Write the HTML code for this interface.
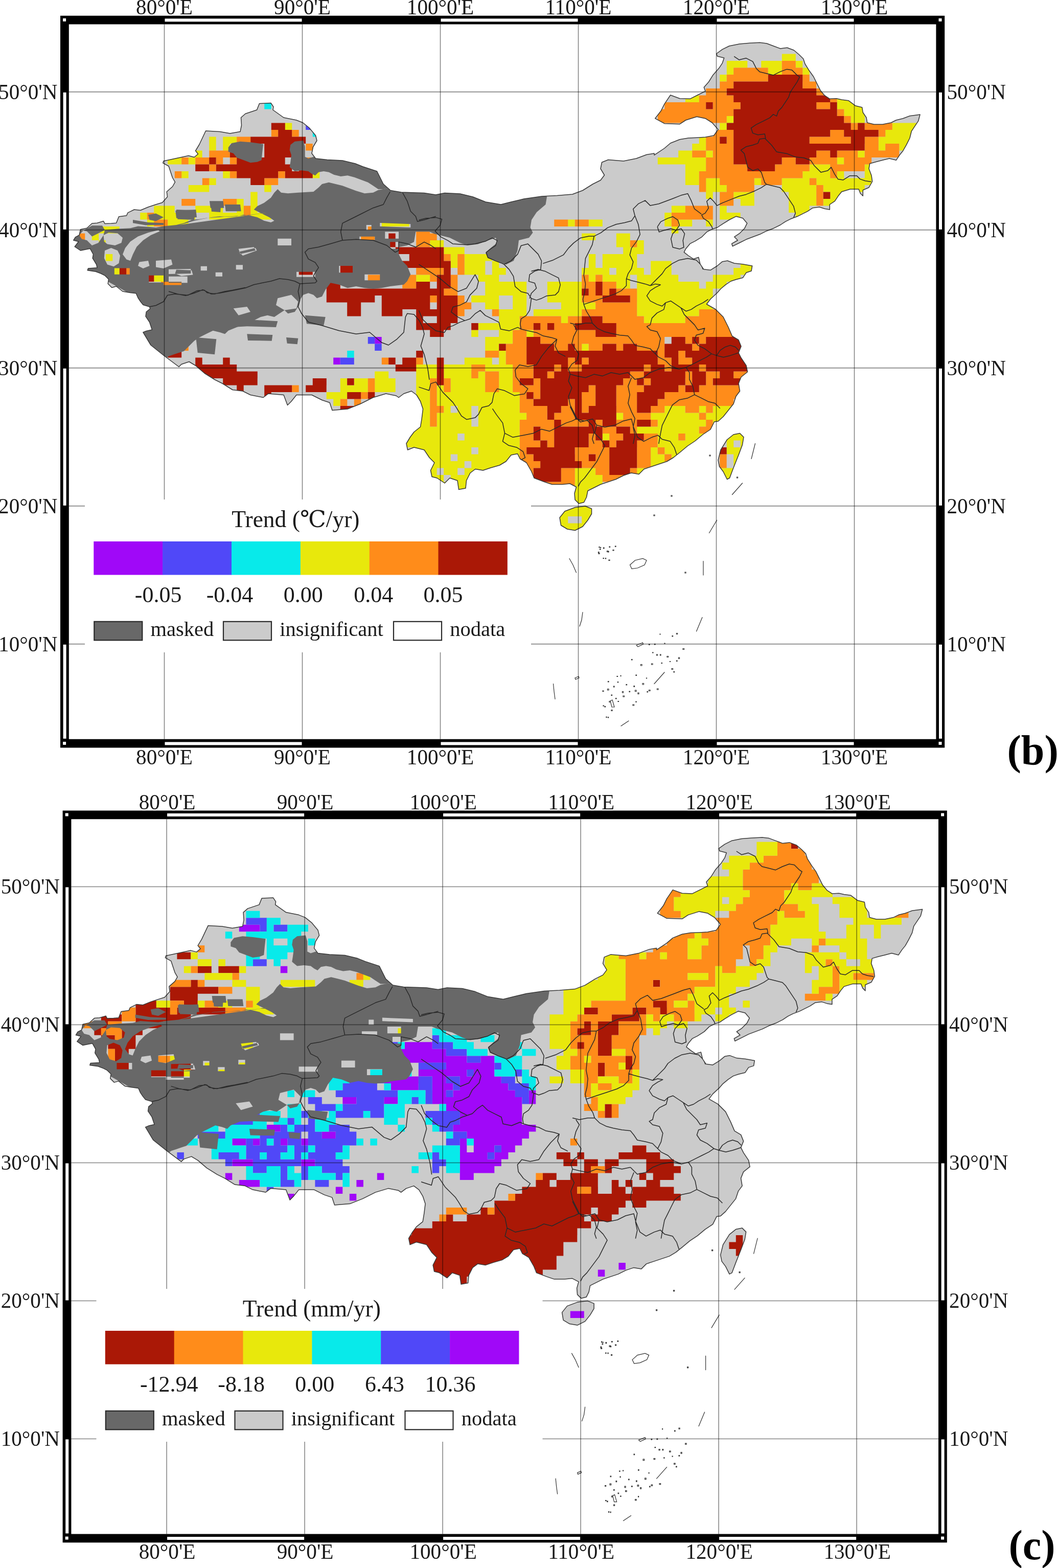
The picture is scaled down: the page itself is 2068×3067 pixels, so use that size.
<!DOCTYPE html>
<html lang="en"><head><meta charset="utf-8"><title>Trend maps</title>
<style>
html,body{margin:0;padding:0;background:#fff;}
body{width:2068px;height:3067px;overflow:hidden;}
svg{display:block;}
text{white-space:pre;}
</style></head>
<body>
<svg width="2068" height="3067" viewBox="0 0 2068 3067">
<rect width="2068" height="3067" fill="#fff"/>
<defs>
<path id="land" d="M143.8,470.0 147.5,463.8 155.0,460.0 157.5,448.8 170.0,446.2 180.0,437.0 190.0,436.2 202.5,432.5 205.0,437.5 217.5,437.0 227.5,436.2 232.5,423.8 247.5,421.8 250.0,416.2 262.5,410.0 275.0,411.2 290.0,405.0 305.0,400.0 317.5,396.2 327.5,385.0 326.2,375.0 337.5,365.0 342.5,356.2 337.5,347.5 330.0,325.0 318.8,318.8 320.0,315.0 337.5,311.2 355.0,307.5 368.8,304.5 380.0,307.5 387.5,301.2 382.5,295.0 390.0,282.5 402.5,256.0 430.0,257.5 450.0,261.0 470.0,257.5 472.5,245.0 471.5,230.0 480.0,222.5 502.5,215.0 507.5,202.5 530.0,201.5 535.0,209.0 534.0,215.0 555.0,230.0 580.0,235.0 592.5,240.0 605.0,250.0 617.5,265.0 620.0,275.0 612.5,287.5 610.0,300.0 617.5,310.0 640.0,312.5 670.0,314.0 695.0,320.0 710.0,326.0 737.5,335.0 750.0,360.0 764.0,372.5 785.0,376.0 830.0,377.5 852.5,381.0 870.0,377.5 900.0,379.0 900.0,379.0 925.0,385.0 950.0,395.0 980.0,400.0 1000.0,395.0 1025.0,389.0 1060.0,384.0 1090.0,382.5 1120.0,380.0 1140.0,372.5 1160.0,360.0 1175.0,352.5 1182.5,342.5 1175.0,330.0 1177.5,317.5 1190.0,312.5 1220.0,315.0 1245.0,310.0 1265.0,302.5 1280.0,300.0 1280.0,303.3 1300.0,290.0 1311.7,280.0 1330.0,272.7 1346.7,270.0 1363.3,269.3 1380.0,268.3 1396.7,265.0 1405.0,253.3 1393.3,240.0 1380.0,231.7 1363.3,228.3 1341.7,235.0 1330.0,242.7 1300.0,241.7 1281.7,231.7 1293.3,216.7 1300.0,203.3 1311.7,186.0 1330.0,192.7 1350.0,193.3 1366.7,185.0 1380.0,178.3 1377.3,170.7 1386.7,160.0 1395.0,146.7 1406.7,133.3 1413.3,123.3 1416.7,113.3 1403.3,110.0 1401.7,105.0 1413.3,96.7 1426.7,90.0 1446.7,86.0 1466.7,84.3 1486.7,83.3 1500.0,85.0 1513.3,90.0 1526.7,95.0 1540.0,93.3 1553.3,98.3 1563.3,106.7 1571.7,115.0 1575.0,125.0 1583.3,138.3 1591.7,150.0 1598.3,163.3 1605.0,176.7 1613.3,186.7 1623.3,193.3 1636.7,192.7 1646.7,195.0 1660.0,196.7 1673.3,206.7 1686.7,210.0 1688.3,220.0 1695.0,230.0 1696.7,240.0 1710.0,243.3 1726.7,243.3 1743.3,240.0 1753.3,235.0 1766.7,231.7 1780.0,226.7 1793.3,225.0 1800.0,224.0 1796.7,236.7 1790.0,246.7 1783.3,256.7 1780.0,270.0 1773.3,283.3 1766.7,295.0 1760.0,303.3 1753.3,313.3 1740.0,310.0 1726.7,313.3 1713.3,316.7 1701.7,320.0 1700.0,330.0 1705.0,343.3 1706.7,355.0 1700.0,366.7 1688.3,371.7 1688.3,383.3 1683.3,378.3 1680.0,370.0 1663.3,370.0 1646.7,375.0 1640.0,383.3 1633.3,393.3 1623.3,400.0 1623.3,410.0 1613.3,408.3 1603.3,405.0 1590.0,406.7 1580.0,413.3 1570.0,418.3 1560.0,423.3 1546.7,428.3 1536.7,433.3 1526.7,440.0 1513.3,446.7 1500.0,451.7 1486.7,458.3 1473.3,463.3 1460.0,468.3 1446.7,475.0 1433.3,481.7 1431.7,476.7 1443.3,470.0 1436.7,463.3 1446.7,456.7 1456.7,446.7 1461.7,436.7 1453.3,426.7 1440.0,423.3 1426.7,430.0 1413.3,438.3 1403.3,445.0 1393.3,448.3 1383.3,453.3 1373.3,463.3 1360.0,471.7 1350.0,476.7 1341.7,486.7 1338.3,493.3 1346.7,500.0 1356.7,506.7 1366.7,503.3 1370.0,516.7 1376.7,526.7 1390.0,528.3 1403.3,520.0 1413.3,511.7 1423.3,510.0 1436.7,515.0 1453.3,516.7 1471.7,520.0 1470.0,530.0 1460.0,533.3 1453.3,543.3 1440.0,546.7 1430.0,550.0 1420.0,556.7 1410.0,565.0 1403.3,572.7 1403.5,572.5 1390.0,585.0 1382.5,595.0 1400.0,605.0 1415.0,620.0 1425.0,640.0 1432.5,657.5 1445.0,665.0 1450.0,677.5 1445.0,690.0 1450.0,700.0 1460.0,715.0 1462.5,727.5 1450.0,737.5 1445.0,750.0 1447.5,765.0 1440.0,775.0 1435.0,790.0 1425.0,802.5 1415.0,815.0 1405.0,824.0 1397.5,825.0 1390.0,840.0 1375.0,850.0 1360.0,862.5 1345.0,872.5 1330.0,885.0 1317.5,895.0 1305.0,902.5 1290.0,907.5 1275.0,912.5 1260.0,917.5 1250.0,927.5 1235.0,925.0 1220.0,930.0 1205.0,937.5 1190.0,942.5 1175.0,947.5 1160.0,955.0 1150.0,960.0 1147.5,972.5 1142.5,982.5 1132.5,985.0 1125.0,977.5 1124.0,965.0 1127.5,952.5 1115.0,946.0 1100.0,947.5 1080.0,947.5 1065.0,942.5 1045.0,935.0 1040.0,922.5 1030.0,905.0 1017.5,897.5 1012.5,887.5 1000.0,890.0 990.0,902.5 977.5,910.0 960.0,915.0 945.0,920.0 930.0,917.5 920.0,925.0 912.5,940.0 911.0,955.0 897.5,957.5 895.0,940.0 880.0,935.0 870.0,945.0 855.0,935.0 845.0,932.5 842.5,920.0 850.0,905.0 840.0,895.0 830.0,880.0 810.0,875.0 797.5,880.0 795.0,867.5 802.5,855.0 810.0,845.0 822.5,835.0 825.0,820.0 827.5,800.0 822.5,785.0 815.0,772.5 805.0,765.0 790.0,770.0 780.0,777.5 775.0,774.0 755.0,770.0 730.0,777.5 705.0,790.0 680.0,800.0 650.0,802.5 645.0,787.5 630.0,782.5 610.0,772.5 580.0,772.5 570.0,785.0 562.5,792.5 555.0,772.5 525.0,770.0 515.0,777.5 490.0,772.5 475.0,765.0 455.0,762.5 435.0,750.0 420.0,742.5 400.0,730.0 382.5,715.0 370.0,707.5 355.0,712.5 350.0,717.5 320.0,695.0 295.0,675.0 280.0,650.0 286.2,647.5 297.5,645.0 292.5,630.0 285.0,618.8 286.2,610.0 293.8,603.8 292.5,600.0 280.0,596.2 275.0,590.0 270.0,582.5 266.2,573.8 255.0,572.5 240.0,570.0 227.5,560.0 218.8,562.5 211.2,555.0 212.5,546.2 205.0,538.8 197.5,535.0 187.5,531.2 171.2,528.8 172.5,525.0 190.0,523.8 188.8,517.5 181.2,505.0 182.5,497.5 176.2,486.2 157.5,490.0 146.2,482.5 153.8,472.5ZM1095.0,1012.5 1105.0,1000.0 1125.0,992.5 1145.0,990.0 1157.5,995.0 1157.5,1005.0 1150.0,1017.5 1140.0,1030.0 1125.0,1037.5 1110.0,1035.0 1097.5,1027.5ZM1405.0,900.0 1410.0,880.0 1422.5,860.0 1435.0,850.0 1447.5,847.5 1455.0,855.0 1452.5,870.0 1445.0,890.0 1435.0,915.0 1427.5,935.0 1422.5,937.5 1415.0,922.5 1407.5,912.5Z"/>
<clipPath id="landclip"><use href="#land"/></clipPath>
<g id="mask" fill="#686868" fill-rule="evenodd"><path d="M135.0,475.0 145.0,460.0 157.5,450.0 170.0,452.5 180.0,462.5 195.0,455.0 205.0,450.0 230.0,447.5 255.0,446.2 270.0,442.5 290.0,443.8 305.0,445.0 320.0,442.5 345.0,440.0 360.0,436.2 375.0,430.0 390.0,428.8 405.0,426.2 425.0,425.0 442.5,423.8 462.5,422.5 480.0,421.2 500.0,418.8 522.0,416.2 350.0,440.0 363.3,436.7 380.0,431.7 396.7,428.3 413.3,425.0 430.0,423.3 446.7,424.0 463.3,423.3 476.7,420.0 490.0,421.7 503.3,425.0 516.7,431.7 530.0,435.0 536.7,431.7 526.7,425.0 506.7,415.0 496.7,410.0 503.3,403.3 516.7,396.7 530.0,386.7 536.7,376.7 543.3,370.0 550.0,376.7 563.3,378.3 583.3,376.7 613.3,375.0 623.3,366.7 630.0,360.0 643.3,356.7 656.7,360.0 670.0,363.3 683.3,368.3 696.7,373.3 713.3,378.3 730.0,376.7 740.0,371.7 750.0,370.0 766.7,366.7 900.0,370.0 1000.0,385.0 1065.0,377.5 1070.0,385.0 1067.5,400.0 1050.0,415.0 1040.0,430.0 1037.5,445.0 1042.5,455.0 1035.0,465.0 1015.0,470.0 1012.5,490.0 1005.0,510.0 990.0,517.5 970.0,510.0 955.0,505.0 950.0,495.0 960.0,485.0 972.5,475.0 970.0,465.0 955.0,470.0 935.0,477.5 915.0,480.0 900.0,475.0 880.0,465.0 860.0,460.0 850.0,457.5 840.0,453.3 813.3,453.3 810.0,473.3 796.7,480.0 780.0,483.3 780.0,496.7 786.7,510.0 796.7,520.0 803.3,536.7 796.7,550.0 790.0,556.7 763.3,560.0 746.7,563.3 730.0,565.0 713.3,563.3 696.7,560.0 680.0,563.3 663.3,556.7 646.7,553.3 636.7,566.7 630.0,580.0 620.0,583.3 613.3,576.7 603.3,573.3 593.3,576.7 586.7,586.7 583.3,600.0 576.7,610.0 563.3,613.3 556.7,606.7 546.7,613.3 536.7,620.0 523.3,616.7 510.0,620.0 496.7,626.7 480.0,633.3 463.3,640.0 446.7,646.7 440.0,653.3 430.0,650.0 416.7,646.7 403.3,653.3 390.0,660.0 380.0,666.7 370.0,676.7 360.0,686.7 350.0,690.0 340.0,693.3 330.0,696.7 320.0,705.0 300.0,690.0 280.0,670.0 265.0,650.0 270.0,620.0 280.0,600.0 255.0,575.0 210.0,550.0 170.0,530.0 140.0,500.0 135.0,470.0ZM240.0,497.5 245.0,485.0 255.0,472.5 270.0,462.5 290.0,455.0 310.0,450.0 312.5,452.5 295.0,460.0 280.0,470.0 267.5,482.5 260.0,497.5 255.0,510.0 247.5,507.5ZM202.5,460.0 212.5,455.0 230.0,456.2 240.0,465.0 237.5,475.0 225.0,480.0 210.0,477.5 203.8,472.5ZM205.0,490.0 217.5,485.0 230.0,490.0 235.0,500.0 232.5,515.0 222.5,521.2 210.0,517.5 203.8,505.0ZM223.8,524.5 253.8,524.5 253.8,536.8 223.8,536.8ZM291.2,538.8 320.0,538.8 320.0,552.5 291.2,552.5ZM320.0,551.2 355.0,551.2 355.0,557.5 320.0,557.5ZM305.0,510.0 335.0,507.5 337.5,517.5 320.0,525.0 305.0,522.5ZM345.0,527.5 375.0,528.8 377.5,537.5 355.0,540.0 342.5,535.0ZM272.5,512.5 290.0,510.0 292.5,520.0 280.0,525.0 270.0,520.0ZM467.5,492.5 500.0,485.0 502.5,490.0 475.0,500.0ZM155.0,460.0 162.5,451.2 180.0,441.2 200.0,441.2 205.0,450.0 202.5,460.0 192.5,475.0 180.0,480.0 170.0,470.0 160.0,467.5ZM743.3,436.0 803.3,438.3 803.3,445.0 743.3,442.7ZM716.7,440.0 726.7,440.0 726.7,450.0 716.7,450.0ZM703.3,462.7 733.3,462.7 733.3,469.3 703.3,469.3ZM753.3,453.3 780.0,453.3 780.0,466.7 753.3,466.7ZM763.3,473.3 780.0,473.3 780.0,486.7 763.3,486.7ZM580.0,531.7 616.7,531.7 616.7,541.7 580.0,541.7ZM663.3,520.0 690.0,520.0 690.0,533.3 663.3,533.3ZM713.3,536.7 743.3,536.7 743.3,548.3 713.3,548.3ZM543.3,466.7 570.0,466.7 570.0,480.0 543.3,480.0ZM466.7,486.7 496.7,483.3 500.0,490.0 470.0,496.7ZM461.7,518.3 475.0,518.3 475.0,527.3 461.7,527.3ZM421.7,532.7 435.0,532.7 435.0,540.7 421.7,540.7ZM392.7,520.7 405.0,520.7 405.0,529.3 392.7,529.3ZM330.0,526.7 373.3,526.0 373.3,535.0 330.0,536.0ZM330.0,540.7 366.7,540.7 366.7,553.3 330.0,553.3ZM543.3,583.3 570.0,576.7 583.3,590.0 580.0,603.3 556.7,606.7 540.0,596.7ZM456.7,603.3 483.3,600.0 490.0,610.0 466.7,616.7Z"/><path d="M568.3,283.3 576.7,276.7 593.3,275.0 596.7,286.7 596.7,306.7 603.3,310.0 613.3,306.7 663.3,310.0 696.7,315.0 740.0,331.7 750.0,353.3 766.7,366.7 750.0,370.0 740.0,370.0 730.0,363.3 720.0,356.7 706.7,351.7 693.3,346.7 680.0,343.3 666.7,345.0 653.3,341.7 643.3,336.7 633.3,335.0 623.3,336.7 616.7,343.3 610.0,340.0 603.3,335.0 590.0,333.3 576.7,335.0 566.7,326.7 568.3,316.7 570.0,303.3 566.7,293.3Z"/><path d="M446.7,288.3 453.3,280.0 470.0,276.7 490.0,278.3 515.0,281.7 513.3,296.7 511.7,313.3 503.3,316.7 490.0,318.3 476.7,313.3 463.3,308.3 456.7,300.0 446.7,296.7Z"/><path d="M343.3,411.7 383.3,410.0 385.0,425.0 345.0,426.7Z"/><path d="M410.0,393.3 436.7,393.3 438.3,406.7 411.7,406.7Z"/><path d="M440.0,400.0 470.0,400.0 471.7,413.3 441.7,413.3Z"/><path d="M450.0,626.7 483.3,625.0 543.3,628.3 540.0,640.0 483.3,638.3 453.3,640.0Z"/><path d="M483.3,653.3 533.3,655.0 531.7,666.7 485.0,666.0Z"/><path d="M596.7,616.7 636.7,620.0 633.3,636.7 600.0,633.3Z"/><path d="M383.3,660.0 423.3,663.3 420.0,693.3 386.7,690.0Z"/><path d="M560.0,660.0 583.3,661.7 581.7,673.3 561.7,671.7Z"/><path d="M345.0,410.0 382.5,411.2 380.0,430.0 347.5,428.8Z"/><path d="M412.5,395.0 432.5,396.2 431.2,415.0 413.8,413.8Z"/><path d="M290.0,420.0 305.0,417.5 320.0,425.0 305.0,432.5 292.5,430.0Z"/><path d="M260.0,430.0 290.0,435.0 320.0,436.2 320.0,440.0 285.0,440.5 260.0,436.2Z"/></g>
<path id="prov" d="M763.3,375.0 756.7,386.7 750.0,400.0 730.0,406.7 703.3,420.0 683.3,430.0 670.0,436.7 666.7,453.3 670.0,470.0M670.0,470.0 646.7,476.7 623.3,483.3 603.3,486.7 596.7,493.3 603.3,506.7 616.7,513.3 623.3,523.3 616.7,533.3 613.3,540.0 620.0,550.0 616.7,553.3 586.7,555.0M586.7,555.0 576.7,550.0 563.3,546.7 546.7,545.0 530.0,550.0 513.3,553.3 496.7,556.7 480.0,563.3 463.3,566.7 446.7,570.0 430.0,573.3 413.3,575.0 396.7,566.7 380.0,573.3 363.3,578.3 346.7,575.0 330.0,570.0M292.5,600.0 305.0,597.5 320.0,590.0 327.5,577.5 342.5,575.0 367.5,577.5 385.0,568.8 400.0,567.5 405.0,572.5 420.0,575.0 440.0,570.0 455.0,567.5 480.0,562.5M586.7,555.0 583.3,570.0 586.7,586.7 583.3,600.0 590.0,613.3 603.3,630.0 630.0,636.7 663.3,646.7 696.7,653.3 723.3,650.0 746.7,670.0 760.0,675.0 776.7,663.3 790.0,650.0 793.3,620.0 796.7,613.3 810.0,615.0 820.0,626.7 826.7,640.0 830.0,653.3 823.3,676.7 830.0,693.3 836.7,720.0 840.0,742.7M670.0,470.0 696.7,468.3 730.0,470.0 756.7,480.0 773.3,493.3 780.0,490.0 780.0,473.3 796.7,476.7 813.3,483.3 830.0,473.3 843.3,480.0 852.7,486.7M786.7,375.0 796.7,393.3 803.3,413.3 813.3,423.3 816.7,433.3 830.0,430.0 852.7,423.3M1436.2,110.4 1446.2,117.1 1459.5,113.7 1472.8,120.4 1479.5,133.7 1486.2,140.4 1499.5,143.7 1512.8,147.1 1526.2,140.4 1539.5,135.4 1549.5,137.1 1559.5,147.1 1564.5,150.4 1559.5,160.4 1552.8,170.4 1546.2,180.4 1542.8,190.4 1536.2,200.4 1529.5,210.4 1522.8,217.1 1519.5,227.1 1512.8,223.7 1506.2,230.4 1492.8,237.1 1479.5,243.7 1469.5,250.4 1472.8,260.4 1482.8,263.7 1496.2,262.1 1497.8,270.4 1486.2,272.1 1482.8,280.4 1472.8,283.7 1459.5,287.1 1449.5,293.7 1456.2,300.4 1459.5,313.7 1462.8,327.1 1472.8,333.7 1482.8,330.4 1489.5,337.1 1492.8,347.1 1496.2,357.1 1499.5,360.4M1496.2,270.4 1509.5,283.7 1519.5,297.1 1539.5,300.4 1556.2,307.1 1572.8,308.7 1586.2,313.7 1592.8,323.7 1606.2,337.1 1619.5,333.7 1626.2,327.1 1632.8,340.4 1639.5,350.4 1649.5,352.1 1662.8,343.7 1676.2,343.7 1682.8,350.4 1692.8,353.7 1704.5,355.4M1499.5,360.4 1512.8,363.7 1526.2,367.1 1532.8,373.7 1539.5,383.7 1546.2,393.7 1552.8,403.7 1556.2,417.1 1552.8,425.4M1499.5,360.4 1489.5,367.1 1476.2,373.7 1459.5,380.4 1446.2,383.7 1429.5,390.4 1412.8,397.1 1402.8,402.1 1396.2,393.7 1389.5,387.1 1382.8,393.7 1386.2,407.1 1379.5,417.1 1372.8,420.4 1376.2,427.1 1386.2,433.7 1392.8,443.7 1394.5,448.7M1286.2,443.7 1292.8,433.7 1306.2,427.1 1316.2,423.7 1326.2,430.4 1329.5,440.4 1322.8,450.4 1312.8,447.1 1299.5,450.4 1289.5,453.7 1286.2,443.7M1322.8,450.4 1332.8,447.1 1339.5,457.1 1336.2,470.4 1337.8,483.7 1329.5,487.1 1316.2,483.7 1312.8,467.1 1316.2,457.1 1322.8,450.4M819.5,430.4 832.8,427.1 852.8,425.4 864.5,428.7 861.2,440.4 851.2,452.1 862.8,463.7 876.2,470.4 886.2,477.1 912.8,478.7 929.5,477.1 949.5,472.1 962.8,465.4 972.8,470.4 969.5,480.4 959.5,487.1 951.2,493.7 954.5,503.7 969.5,510.4 982.8,515.4 986.2,517.1M986.2,517.1 996.2,527.1 1004.5,540.4 1007.8,560.4 1019.5,570.4 1032.8,573.7 1039.5,583.7 1037.8,597.1 1036.2,607.1 1029.5,617.1 1019.5,623.7 1017.8,633.7 1019.5,643.7M986.2,517.1 999.5,510.4 1012.8,497.1 1019.5,480.4 1032.8,477.1 1042.8,487.1 1052.8,497.1 1059.5,510.4 1057.8,527.1 1046.2,530.4 1036.2,537.1 1034.5,550.4 1046.2,553.7 1049.5,563.7 1039.5,573.7 1036.2,583.7M1039.5,530.4 1052.8,527.1 1066.2,530.4 1079.5,537.1 1092.8,543.7 1096.2,557.1 1092.8,570.4 1086.2,577.1 1069.5,578.7 1059.5,583.7 1049.5,587.1 1039.5,583.7M1019.5,643.7 1032.8,647.1 1049.5,650.4 1062.8,657.1 1079.5,660.4 1089.5,663.7 1086.2,677.1 1092.8,690.4 1106.2,697.1M1089.5,663.7 1072.8,680.4 1059.5,697.1 1049.5,713.7 1032.8,717.1 1016.2,713.7 1007.8,723.7 1009.5,737.1 1019.5,750.4 1032.8,760.4 1026.2,770.4 1006.2,773.7 986.2,763.7 972.8,760.4 966.2,770.4 962.8,787.1 956.2,793.7 942.8,797.1 936.2,810.4 929.5,817.1 912.8,820.4 902.8,813.7 892.8,797.1 886.2,787.1 876.2,777.1 866.2,767.1 859.5,757.1 852.8,747.1 842.8,750.4 839.5,763.7 829.5,760.4 819.5,757.1M819.5,517.1 839.5,530.4 859.5,543.7 879.5,560.4 896.2,570.4 912.8,563.7 929.5,537.1 936.2,550.4 932.8,563.7 919.5,577.1 912.8,590.4 899.5,597.1 886.2,600.4 882.8,610.4 896.2,620.4 909.5,627.1 919.5,623.7 929.5,613.7 939.5,607.1 949.5,617.1 962.8,623.7 976.2,630.4 979.5,643.7 996.2,647.1 1012.8,640.4 1019.5,643.7M819.5,607.1 826.2,623.7 839.5,637.1 852.8,647.1 869.5,650.4 876.2,640.4 886.2,637.1 899.5,630.4 909.5,627.1M963.5,799.4 971.5,811.4 983.5,827.4 987.5,847.4 983.5,863.3 995.4,871.3 1011.4,875.3 1023.4,883.3 1027.4,895.3 1011.4,903.3 1007.4,911.3M987.5,847.4 1003.4,855.3 1023.4,851.4 1043.4,847.4 1059.4,839.4 1075.4,843.4 1091.4,835.4 1107.4,827.4 1119.4,823.4 1127.4,819.4M1115.4,795.4 1123.4,811.4 1127.4,819.4 1143.4,823.4 1159.4,819.4 1167.4,831.4 1163.4,847.4 1175.4,859.3 1183.4,871.3 1175.4,887.3 1167.4,903.3 1155.4,919.3 1143.4,935.3 1135.4,943.3 1131.4,951.3M1167.4,831.4 1183.4,835.4 1203.4,831.4 1219.4,823.4 1235.4,819.4 1239.4,835.4 1247.4,855.3 1259.4,863.3 1275.4,855.3 1287.4,851.4 1295.4,859.3 1311.3,863.3 1319.3,875.3 1323.3,887.3 1327.3,895.3M1062.2,515.4 1082.2,508.7 1102.2,498.7 1112.2,485.4 1122.2,475.4 1135.5,465.4 1152.2,462.1 1162.2,462.1M1162.2,462.1 1158.8,478.7 1152.2,492.1 1145.5,505.4 1143.8,522.1 1142.2,538.7 1145.5,555.4 1143.8,572.1 1140.5,585.4 1142.2,595.4 1147.2,608.7 1155.5,622.1 1158.8,632.1 1168.8,642.1 1182.2,648.7 1195.5,652.1 1212.2,655.4 1228.8,657.1 1235.5,665.4 1242.2,675.4 1258.8,678.7 1272.2,682.1 1282.2,692.1 1288.8,698.7M1162.2,462.1 1175.5,455.4 1188.8,445.4 1205.5,438.7 1222.2,435.4 1235.5,432.1 1242.2,422.1 1238.8,408.7 1248.8,398.7 1262.2,392.1 1272.2,402.1 1288.8,398.7 1315.5,388.7 1332.2,382.1 1345.5,378.7 1352.2,392.1 1358.8,408.7 1372.2,418.7M1242.2,422.1 1248.8,438.7 1252.2,458.7 1245.5,472.1 1235.5,485.4 1232.2,498.7 1238.8,512.1 1235.5,525.4 1228.8,535.4 1225.5,545.4 1235.5,548.7 1248.8,552.1 1262.2,555.4 1272.2,558.7M1142.2,595.4 1162.2,588.7 1182.2,582.1 1202.2,575.4 1215.5,568.7 1225.5,558.7 1225.5,545.4M1272.2,558.7 1282.2,555.4 1292.2,557.1 1282.2,562.1 1272.2,568.7 1265.5,578.7 1272.2,588.7 1285.5,595.4 1295.5,598.7 1302.2,592.1 1312.2,588.7 1322.2,595.4 1332.2,602.1 1342.2,608.7 1352.2,605.4 1362.2,598.7 1375.5,592.1 1385.5,585.4M1272.2,558.7 1285.5,545.4 1295.5,535.4 1302.2,525.4 1315.5,515.4 1328.8,508.7 1345.5,505.4 1362.2,508.7 1372.2,518.7 1375.5,527.1M1302.2,592.1 1298.8,605.4 1285.5,612.1 1275.5,622.1 1272.2,635.4 1265.5,638.7 1272.2,645.4 1285.5,648.7 1292.2,662.1 1288.8,678.7 1282.2,692.1M1332.2,602.1 1338.8,615.4 1348.8,625.4 1358.8,635.4 1365.5,645.4 1378.8,642.1 1375.5,652.1 1362.2,655.4 1358.8,665.4 1365.5,675.4 1378.8,682.1 1392.2,692.1 1402.2,695.4 1415.5,698.7 1428.8,695.4 1438.8,692.1 1448.8,688.7M1402.2,695.4 1408.8,685.4 1418.8,678.7 1428.8,675.4 1438.8,678.7 1445.5,685.4M1288.8,698.7 1302.2,705.4 1312.2,715.4 1328.8,722.1 1342.2,718.7 1355.5,712.1 1368.8,705.4 1382.2,698.7 1392.2,692.1M1342.2,718.7 1348.8,728.7 1348.8,742.1 1355.5,755.4 1358.8,772.1 1372.2,778.7 1385.5,785.4 1398.8,788.7 1408.8,798.7M1358.8,772.1 1345.5,778.7 1328.8,782.1 1315.5,792.1 1308.8,805.4 1302.2,818.7 1295.5,832.1 1292.2,848.7 1288.8,868.1M1328.8,722.1 1308.8,718.7 1288.8,722.1 1272.2,728.7 1258.8,738.7 1242.2,742.1 1228.8,728.7M1235.5,738.7 1228.8,755.4 1232.2,772.1 1228.8,788.7 1235.5,805.4 1242.2,818.7 1238.8,835.4 1242.2,852.1 1238.8,868.1M1228.8,728.7 1212.2,732.1 1195.5,728.7 1178.8,735.4 1162.2,732.1 1145.5,738.7 1128.8,735.4 1115.5,732.1M1115.5,632.1 1128.8,635.4 1145.5,632.1 1158.8,632.1M1122.2,635.4 1128.8,645.4 1122.2,658.7 1118.8,672.1 1125.5,682.1 1132.2,692.1 1128.8,705.4 1118.8,712.1 1112.2,722.1 1115.5,732.1 1112.2,745.4 1118.8,758.7 1112.2,775.4 1115.5,792.1 1122.2,805.4 1128.8,818.7 1135.5,825.4 1148.8,822.1 1158.8,832.1 1162.2,845.4 1158.8,858.7 1162.2,868.1" fill="none" stroke="#2a2a2a" stroke-width="1.5" stroke-linejoin="round"/>
<path id="sea" d="M1477.5,867.5 1470.0,897.5M1452.5,945.0 1432.5,967.5M1402.5,1017.5 1387.5,1042.5M1376.0,1097.5 1376.0,1125.0M1374.0,1207.5 1362.5,1235.0M1300.0,1315.0 1280.0,1337.5M1082.5,1337.5 1084.0,1352.5 1086.0,1367.5M1140.0,1197.5 1138.0,1212.5 1134.0,1225.0M1114.0,1092.5 1121.0,1105.0 1127.5,1120.0M1230.0,1410.0 1215.0,1420.0M1232.5,1105.0 1242.5,1096.0 1257.5,1092.5 1265.0,1096.0 1261.0,1105.0 1247.5,1111.0 1236.0,1112.5ZM1194.0,1371.0 1198.0,1369.0 1202.0,1383.0 1197.0,1383.0ZM1125.0,1326.0 1132.0,1323.0 1133.0,1326.0 1126.0,1329.0ZM1245.0,1262.0 1257.5,1257.0 1258.5,1260.0 1248.0,1265.0ZM1180.5,1071.0 1182.0,1071.0 1182.0,1073.0 1180.5,1073.0ZM1192.0,1069.0 1193.5,1069.0 1193.5,1070.5 1192.0,1070.5ZM1187.5,1077.5 1190.0,1077.5 1190.0,1079.5 1187.5,1079.5ZM1171.0,1082.0 1173.0,1082.0 1173.0,1083.5 1171.0,1083.5ZM1170.5,1079.5 1172.0,1079.5 1172.0,1081.5 1170.5,1081.5ZM1172.0,1069.5 1173.0,1069.5 1173.0,1071.0 1172.0,1071.0ZM1184.5,1091.5 1185.5,1091.5 1185.5,1093.0 1184.5,1093.0ZM1173.5,1073.5 1175.0,1073.5 1175.0,1075.0 1173.5,1075.0ZM1191.0,1095.0 1193.0,1095.0 1193.0,1096.5 1191.0,1096.5ZM1189.5,1078.5 1191.0,1078.5 1191.0,1080.0 1189.5,1080.0ZM1203.5,1068.0 1205.0,1068.0 1205.0,1069.5 1203.5,1069.5ZM1199.0,1075.5 1201.0,1075.5 1201.0,1077.0 1199.0,1077.0ZM1174.5,1070.5 1175.5,1070.5 1175.5,1071.5 1174.5,1071.5ZM1180.0,1091.5 1181.5,1091.5 1181.5,1092.5 1180.0,1092.5ZM1209.0,1371.5 1210.5,1371.5 1210.5,1372.5 1209.0,1372.5ZM1284.5,1280.0 1286.5,1280.0 1286.5,1282.0 1284.5,1282.0ZM1269.5,1260.0 1271.0,1260.0 1271.0,1261.5 1269.5,1261.5ZM1188.5,1347.5 1191.0,1347.5 1191.0,1350.0 1188.5,1350.0ZM1291.5,1280.0 1293.0,1280.0 1293.0,1282.0 1291.5,1282.0ZM1231.0,1352.0 1232.5,1352.0 1232.5,1353.5 1231.0,1353.5ZM1253.5,1299.5 1256.0,1299.5 1256.0,1302.0 1253.5,1302.0ZM1310.5,1293.5 1311.5,1293.5 1311.5,1294.5 1310.5,1294.5ZM1219.0,1361.0 1221.5,1361.0 1221.5,1363.0 1219.0,1363.0ZM1266.0,1352.5 1267.5,1352.5 1267.5,1354.0 1266.0,1354.0ZM1300.0,1258.0 1301.0,1258.0 1301.0,1259.0 1300.0,1259.0ZM1248.0,1355.0 1250.0,1355.0 1250.0,1357.5 1248.0,1357.5ZM1204.5,1365.5 1206.0,1365.5 1206.0,1367.0 1204.5,1367.0ZM1186.0,1402.0 1187.0,1402.0 1187.0,1403.5 1186.0,1403.5ZM1305.0,1283.5 1307.5,1283.5 1307.5,1285.5 1305.0,1285.5ZM1323.5,1238.5 1325.5,1238.5 1325.5,1240.5 1323.5,1240.5ZM1294.0,1296.5 1295.5,1296.5 1295.5,1297.5 1294.0,1297.5ZM1274.5,1298.0 1277.0,1298.0 1277.0,1300.0 1274.5,1300.0ZM1318.0,1313.5 1319.5,1313.5 1319.5,1315.0 1318.0,1315.0ZM1257.0,1336.5 1259.5,1336.5 1259.5,1339.0 1257.0,1339.0ZM1189.5,1402.5 1190.5,1402.5 1190.5,1404.0 1189.5,1404.0ZM1285.5,1347.0 1288.0,1347.0 1288.0,1349.0 1285.5,1349.0ZM1315.0,1243.5 1316.5,1243.5 1316.5,1245.0 1315.0,1245.0ZM1242.5,1350.0 1245.0,1350.0 1245.0,1352.5 1242.5,1352.5ZM1183.0,1381.5 1184.5,1381.5 1184.5,1383.0 1183.0,1383.0ZM1207.0,1322.5 1208.5,1322.5 1208.5,1323.5 1207.0,1323.5ZM1200.5,1342.0 1202.0,1342.0 1202.0,1344.0 1200.5,1344.0ZM1244.0,1372.0 1245.0,1372.0 1245.0,1373.5 1244.0,1373.5ZM1192.0,1371.5 1194.5,1371.5 1194.5,1373.5 1192.0,1373.5ZM1269.5,1349.5 1272.0,1349.5 1272.0,1351.5 1269.5,1351.5ZM1314.0,1307.5 1316.5,1307.5 1316.5,1309.5 1314.0,1309.5ZM1225.0,1338.5 1226.5,1338.5 1226.5,1340.0 1225.0,1340.0ZM1238.0,1378.0 1240.5,1378.0 1240.5,1380.0 1238.0,1380.0ZM1208.5,1333.5 1209.5,1333.5 1209.5,1335.0 1208.5,1335.0ZM1217.5,1352.5 1219.5,1352.5 1219.5,1355.0 1217.5,1355.0ZM1276.5,1276.0 1278.0,1276.0 1278.0,1277.0 1276.5,1277.0ZM1180.0,1380.0 1181.5,1380.0 1181.5,1381.0 1180.0,1381.0ZM1240.0,1341.5 1241.5,1341.5 1241.5,1343.5 1240.0,1343.5ZM1336.0,1268.5 1338.5,1268.5 1338.5,1270.5 1336.0,1270.5ZM1264.5,1326.0 1265.5,1326.0 1265.5,1327.0 1264.5,1327.0ZM1291.0,1240.0 1292.0,1240.0 1292.0,1241.0 1291.0,1241.0ZM1327.5,1286.0 1329.5,1286.0 1329.5,1288.5 1327.5,1288.5ZM1323.5,1292.0 1325.0,1292.0 1325.0,1293.5 1323.5,1293.5ZM1244.0,1320.0 1245.5,1320.0 1245.5,1321.5 1244.0,1321.5ZM1196.0,1388.5 1198.0,1388.5 1198.0,1390.5 1196.0,1390.5ZM1189.5,1332.5 1191.0,1332.5 1191.0,1334.0 1189.5,1334.0ZM1214.0,1321.5 1215.0,1321.5 1215.0,1322.5 1214.0,1322.5ZM1235.5,1289.5 1237.0,1289.5 1237.0,1291.0 1235.5,1291.0ZM1179.0,1351.0 1181.0,1351.0 1181.0,1352.5 1179.0,1352.5ZM1196.0,1359.0 1197.5,1359.0 1197.5,1360.5 1196.0,1360.5ZM1280.5,1259.5 1282.0,1259.5 1282.0,1261.0 1280.5,1261.0ZM1313.0,969.0 1315.0,969.0 1315.0,971.0 1313.0,971.0ZM1340.0,1119.0 1342.0,1119.0 1342.0,1121.0 1340.0,1121.0ZM1388.0,890.0 1390.0,890.0 1390.0,892.0 1388.0,892.0ZM1441.5,933.0 1443.5,933.0 1443.5,935.0 1441.5,935.0ZM1279.0,1007.0 1281.0,1007.0 1281.0,1009.0 1279.0,1009.0Z" fill="none" stroke="#333" stroke-width="1.2" stroke-linecap="round"/>
</defs>
<g transform="translate(0,0)">
<g clip-path="url(#landclip)">
<use href="#land" fill="#cbcbcb"/>
<path fill="#e8e80c" d="M1084.2,1023.5h81.0v13.5h-81.0zM1084.2,983.0h81.0v27.0h-81.0zM1084.2,1010.0h27.0v13.5h-27.0zM1138.2,1010.0h27.0v13.5h-27.0zM1138.2,456.6h27.0v13.5h-27.0zM1124.8,956.0h27.0v27.0h-27.0zM814.2,942.5h135.0v13.5h-135.0zM1124.8,929.0h54.0v27.0h-54.0zM814.2,929.0h54.0v13.5h-54.0zM881.8,929.0h67.5v13.5h-67.5zM881.8,740.0h67.5v27.0h-67.5zM1408.2,915.5h27.0v27.0h-27.0zM814.2,915.5h40.5v13.5h-40.5zM814.2,713.0h40.5v27.0h-40.5zM868.2,915.5h27.0v13.5h-27.0zM908.8,915.5h108.0v13.5h-108.0zM908.8,848.0h108.0v13.5h-108.0zM1124.8,915.5h40.5v13.5h-40.5zM1246.2,915.5h40.5v13.5h-40.5zM814.2,902.0h94.5v13.5h-94.5zM922.2,902.0h94.5v13.5h-94.5zM1273.2,902.0h40.5v13.5h-40.5zM1273.2,510.6h40.5v27.0h-40.5zM1435.2,888.5h13.5v27.0h-13.5zM814.2,888.5h67.5v13.5h-67.5zM895.2,888.5h121.5v13.5h-121.5zM1273.2,888.5h27.0v13.5h-27.0zM1313.8,888.5h27.0v13.5h-27.0zM1313.8,402.6h27.0v13.5h-27.0zM814.2,875.0h108.0v13.5h-108.0zM935.8,875.0h81.0v13.5h-81.0zM935.8,821.0h81.0v13.5h-81.0zM935.8,794.0h81.0v13.5h-81.0zM935.8,632.0h81.0v13.5h-81.0zM1273.2,875.0h13.5v13.5h-13.5zM1300.2,875.0h40.5v13.5h-40.5zM1300.2,794.0h40.5v13.5h-40.5zM1421.8,875.0h40.5v13.5h-40.5zM1421.8,848.0h40.5v13.5h-40.5zM1421.8,119.1h40.5v13.5h-40.5zM787.2,861.5h229.5v13.5h-229.5zM787.2,834.5h229.5v13.5h-229.5zM1286.8,861.5h81.0v13.5h-81.0zM1421.8,861.5h13.5v13.5h-13.5zM1421.8,227.1h13.5v13.5h-13.5zM1421.8,132.6h13.5v13.5h-13.5zM1448.8,861.5h13.5v13.5h-13.5zM787.2,848.0h108.0v13.5h-108.0zM1178.8,848.0h13.5v13.5h-13.5zM1286.8,848.0h40.5v13.5h-40.5zM1340.8,848.0h40.5v13.5h-40.5zM1340.8,321.6h40.5v13.5h-40.5zM1246.2,834.5h121.5v13.5h-121.5zM1246.2,605.0h121.5v13.5h-121.5zM1246.2,551.0h121.5v13.5h-121.5zM814.2,740.0h27.0v94.5h-27.0zM814.2,537.5h27.0v13.5h-27.0zM854.8,807.5h67.5v27.0h-67.5zM1286.8,821.0h94.5v13.5h-94.5zM1286.8,308.1h94.5v13.5h-94.5zM1394.8,821.0h13.5v13.5h-13.5zM935.8,807.5h94.5v13.5h-94.5zM1205.8,807.5h13.5v13.5h-13.5zM1273.2,807.5h94.5v13.5h-94.5zM1381.2,807.5h40.5v13.5h-40.5zM1381.2,551.0h40.5v13.5h-40.5zM1381.2,362.1h40.5v13.5h-40.5zM868.2,794.0h13.5v13.5h-13.5zM895.2,794.0h27.0v13.5h-27.0zM1367.8,794.0h13.5v13.5h-13.5zM1367.8,267.6h13.5v13.5h-13.5zM1394.8,794.0h40.5v13.5h-40.5zM652.2,780.5h13.5v13.5h-13.5zM854.8,767.0h162.0v27.0h-162.0zM638.8,767.0h40.5v13.5h-40.5zM665.8,753.5h54.0v13.5h-54.0zM733.2,740.0h40.5v27.0h-40.5zM854.8,753.5h13.5v13.5h-13.5zM976.2,726.5h27.0v40.5h-27.0zM976.2,645.5h27.0v13.5h-27.0zM665.8,740.0h13.5v13.5h-13.5zM692.8,740.0h27.0v13.5h-27.0zM733.2,726.5h27.0v13.5h-27.0zM868.2,713.0h54.0v27.0h-54.0zM935.8,726.5h13.5v13.5h-13.5zM949.2,713.0h54.0v13.5h-54.0zM949.2,659.0h54.0v13.5h-54.0zM908.8,699.5h54.0v13.5h-54.0zM908.8,497.1h54.0v13.5h-54.0zM976.2,686.0h13.5v27.0h-13.5zM949.2,672.5h27.0v13.5h-27.0zM949.2,591.5h27.0v13.5h-27.0zM1138.2,672.5h13.5v13.5h-13.5zM922.2,645.5h13.5v13.5h-13.5zM1030.2,645.5h13.5v13.5h-13.5zM976.2,618.5h40.5v13.5h-40.5zM1097.8,618.5h13.5v13.5h-13.5zM1259.8,618.5h81.0v13.5h-81.0zM976.2,605.0h54.0v13.5h-54.0zM1043.8,605.0h94.5v13.5h-94.5zM1003.2,578.0h27.0v27.0h-27.0zM1097.8,591.5h67.5v13.5h-67.5zM1246.2,564.5h148.5v40.5h-148.5zM922.2,578.0h54.0v13.5h-54.0zM1070.8,551.0h67.5v40.5h-67.5zM949.2,551.0h81.0v27.0h-81.0zM1205.8,551.0h27.0v13.5h-27.0zM1205.8,456.6h27.0v27.0h-27.0zM301.2,537.5h27.0v13.5h-27.0zM935.8,537.5h40.5v13.5h-40.5zM1151.8,537.5h13.5v13.5h-13.5zM1151.8,497.1h13.5v27.0h-13.5zM1178.8,537.5h54.0v13.5h-54.0zM1246.2,537.5h81.0v13.5h-81.0zM1394.8,537.5h54.0v13.5h-54.0zM220.2,524.0h13.5v13.5h-13.5zM908.8,510.6h40.5v27.0h-40.5zM962.8,524.0h27.0v13.5h-27.0zM1138.2,524.0h54.0v13.5h-54.0zM1205.8,524.0h54.0v13.5h-54.0zM1435.2,524.0h40.5v13.5h-40.5zM1435.2,375.6h40.5v13.5h-40.5zM881.8,497.1h13.5v27.0h-13.5zM962.8,510.6h13.5v13.5h-13.5zM1178.8,497.1h67.5v27.0h-67.5zM1448.8,510.6h27.0v13.5h-27.0zM1448.8,389.1h27.0v13.5h-27.0zM206.8,497.1h13.5v13.5h-13.5zM868.2,483.6h40.5v13.5h-40.5zM1219.2,483.6h40.5v13.5h-40.5zM193.2,470.1h13.5v13.5h-13.5zM841.2,470.1h27.0v13.5h-27.0zM1246.2,470.1h13.5v13.5h-13.5zM179.8,456.6h13.5v13.5h-13.5zM193.2,443.1h40.5v13.5h-40.5zM1313.8,443.1h13.5v13.5h-13.5zM287.8,429.6h13.5v13.5h-13.5zM328.2,429.6h40.5v13.5h-40.5zM746.8,429.6h54.0v13.5h-54.0zM1111.2,429.6h13.5v13.5h-13.5zM1151.8,429.6h27.0v13.5h-27.0zM1300.2,416.1h13.5v27.0h-13.5zM1327.2,429.6h27.0v13.5h-27.0zM1327.2,294.6h27.0v13.5h-27.0zM1381.2,429.6h13.5v13.5h-13.5zM1381.2,375.6h13.5v13.5h-13.5zM1381.2,294.6h13.5v13.5h-13.5zM274.2,416.1h13.5v13.5h-13.5zM301.2,416.1h81.0v13.5h-81.0zM409.2,416.1h67.5v13.5h-67.5zM490.2,416.1h40.5v13.5h-40.5zM1408.2,416.1h40.5v13.5h-40.5zM1556.8,416.1h13.5v13.5h-13.5zM1556.8,119.1h13.5v13.5h-13.5zM301.2,402.6h40.5v13.5h-40.5zM382.2,402.6h54.0v13.5h-54.0zM463.2,389.1h13.5v27.0h-13.5zM490.2,375.6h13.5v40.5h-13.5zM1408.2,402.6h13.5v13.5h-13.5zM1408.2,240.6h13.5v13.5h-13.5zM1408.2,146.1h13.5v13.5h-13.5zM1543.2,402.6h40.5v13.5h-40.5zM1543.2,375.6h54.0v27.0h-54.0zM1610.8,389.1h27.0v13.5h-27.0zM1624.2,375.6h54.0v13.5h-54.0zM368.8,362.1h40.5v13.5h-40.5zM517.2,362.1h13.5v13.5h-13.5zM1529.8,362.1h67.5v13.5h-67.5zM1610.8,362.1h81.0v13.5h-81.0zM409.2,348.6h13.5v13.5h-13.5zM409.2,267.6h13.5v27.0h-13.5zM1340.8,335.1h27.0v27.0h-27.0zM1340.8,186.6h27.0v13.5h-27.0zM1381.2,348.6h27.0v13.5h-27.0zM1475.8,348.6h13.5v13.5h-13.5zM1529.8,348.6h54.0v13.5h-54.0zM1597.2,348.6h108.0v13.5h-108.0zM355.2,335.1h13.5v13.5h-13.5zM436.2,335.1h13.5v13.5h-13.5zM436.2,281.1h13.5v13.5h-13.5zM611.8,335.1h13.5v13.5h-13.5zM1570.2,335.1h54.0v13.5h-54.0zM1637.8,335.1h13.5v13.5h-13.5zM1637.8,308.1h13.5v13.5h-13.5zM1691.8,321.6h13.5v27.0h-13.5zM1583.8,321.6h40.5v13.5h-40.5zM328.2,308.1h27.0v13.5h-27.0zM368.8,308.1h13.5v13.5h-13.5zM382.2,294.6h13.5v13.5h-13.5zM1678.2,294.6h13.5v13.5h-13.5zM1354.2,281.1h27.0v13.5h-27.0zM1718.8,281.1h13.5v13.5h-13.5zM1759.2,281.1h27.0v13.5h-27.0zM436.2,267.6h27.0v13.5h-27.0zM1718.8,267.6h67.5v13.5h-67.5zM1732.2,254.1h67.5v13.5h-67.5zM557.8,240.6h13.5v13.5h-13.5zM1745.8,240.6h54.0v13.5h-54.0zM1664.8,227.1h27.0v13.5h-27.0zM1651.2,213.6h40.5v13.5h-40.5zM1637.8,200.1h54.0v13.5h-54.0zM1637.8,186.6h27.0v13.5h-27.0zM1502.8,132.6h27.0v13.5h-27.0zM1570.2,132.6h13.5v13.5h-13.5zM1489.2,119.1h40.5v13.5h-40.5zM1529.8,105.6h27.0v13.5h-27.0z"/>
<path fill="#ff8c1a" d="M1057.2,942.5h67.5v13.5h-67.5zM1097.8,915.5h27.0v27.0h-27.0zM1097.8,794.0h27.0v13.5h-27.0zM1178.8,929.0h54.0v13.5h-54.0zM1016.8,915.5h27.0v13.5h-27.0zM1016.8,888.5h27.0v13.5h-27.0zM1016.8,834.5h27.0v27.0h-27.0zM1016.8,780.5h27.0v13.5h-27.0zM1016.8,632.0h27.0v13.5h-27.0zM1165.2,915.5h27.0v13.5h-27.0zM1165.2,888.5h27.0v13.5h-27.0zM1232.8,915.5h13.5v13.5h-13.5zM1232.8,834.5h13.5v13.5h-13.5zM1232.8,578.0h13.5v13.5h-13.5zM1232.8,470.1h13.5v13.5h-13.5zM1016.8,902.0h40.5v13.5h-40.5zM1016.8,861.5h40.5v13.5h-40.5zM1138.2,902.0h54.0v13.5h-54.0zM1246.2,875.0h27.0v40.5h-27.0zM1408.2,888.5h13.5v27.0h-13.5zM1124.8,888.5h27.0v13.5h-27.0zM1124.8,429.6h27.0v13.5h-27.0zM1300.2,888.5h13.5v13.5h-13.5zM1300.2,713.0h13.5v13.5h-13.5zM1016.8,875.0h13.5v13.5h-13.5zM1016.8,767.0h13.5v13.5h-13.5zM1124.8,875.0h67.5v13.5h-67.5zM1286.8,875.0h13.5v13.5h-13.5zM1286.8,686.0h13.5v13.5h-13.5zM1070.8,861.5h13.5v13.5h-13.5zM1070.8,726.5h13.5v13.5h-13.5zM1151.8,861.5h27.0v13.5h-27.0zM1151.8,672.5h27.0v13.5h-27.0zM1192.2,861.5h13.5v13.5h-13.5zM1246.2,861.5h40.5v13.5h-40.5zM1057.2,834.5h27.0v27.0h-27.0zM1151.8,848.0h13.5v13.5h-13.5zM1151.8,753.5h13.5v13.5h-13.5zM1151.8,564.5h13.5v13.5h-13.5zM1192.2,848.0h27.0v13.5h-27.0zM1259.8,848.0h27.0v13.5h-27.0zM1327.2,848.0h13.5v13.5h-13.5zM1327.2,753.5h13.5v13.5h-13.5zM1327.2,686.0h13.5v13.5h-13.5zM1178.8,834.5h27.0v13.5h-27.0zM1178.8,551.0h27.0v13.5h-27.0zM1367.8,834.5h27.0v13.5h-27.0zM841.2,807.5h13.5v27.0h-13.5zM841.2,740.0h13.5v54.0h-13.5zM841.2,578.0h13.5v13.5h-13.5zM841.2,537.5h13.5v13.5h-13.5zM1016.8,821.0h67.5v13.5h-67.5zM1097.8,821.0h54.0v13.5h-54.0zM1165.2,821.0h13.5v13.5h-13.5zM1165.2,537.5h13.5v13.5h-13.5zM1205.8,821.0h40.5v13.5h-40.5zM1205.8,767.0h40.5v40.5h-40.5zM1205.8,564.5h40.5v13.5h-40.5zM1273.2,821.0h13.5v13.5h-13.5zM1381.2,821.0h13.5v13.5h-13.5zM1381.2,794.0h13.5v13.5h-13.5zM1381.2,740.0h13.5v13.5h-13.5zM1030.2,807.5h40.5v13.5h-40.5zM1084.2,807.5h40.5v13.5h-40.5zM1084.2,632.0h40.5v13.5h-40.5zM1219.2,807.5h54.0v13.5h-54.0zM1367.8,807.5h13.5v13.5h-13.5zM1367.8,713.0h13.5v13.5h-13.5zM1367.8,659.0h13.5v13.5h-13.5zM1367.8,348.6h13.5v27.0h-13.5zM841.2,794.0h27.0v13.5h-27.0zM1016.8,794.0h54.0v13.5h-54.0zM1138.2,794.0h13.5v13.5h-13.5zM1138.2,699.5h13.5v13.5h-13.5zM1138.2,537.5h13.5v13.5h-13.5zM1273.2,794.0h27.0v13.5h-27.0zM1340.8,794.0h27.0v13.5h-27.0zM665.8,780.5h13.5v13.5h-13.5zM692.8,780.5h13.5v13.5h-13.5zM1111.2,780.5h13.5v13.5h-13.5zM1111.2,699.5h13.5v13.5h-13.5zM1138.2,767.0h27.0v27.0h-27.0zM1138.2,551.0h27.0v13.5h-27.0zM1286.8,780.5h148.5v13.5h-148.5zM1286.8,213.6h148.5v13.5h-148.5zM706.2,767.0h13.5v13.5h-13.5zM1043.8,767.0h13.5v13.5h-13.5zM1043.8,740.0h13.5v13.5h-13.5zM1300.2,767.0h148.5v13.5h-148.5zM571.2,753.5h13.5v13.5h-13.5zM571.2,254.1h13.5v13.5h-13.5zM719.8,740.0h13.5v27.0h-13.5zM719.8,443.1h13.5v13.5h-13.5zM868.2,740.0h13.5v27.0h-13.5zM868.2,497.1h13.5v13.5h-13.5zM949.2,726.5h27.0v40.5h-27.0zM949.2,686.0h27.0v13.5h-27.0zM1003.2,753.5h54.0v13.5h-54.0zM1205.8,753.5h54.0v13.5h-54.0zM1367.8,753.5h81.0v13.5h-81.0zM1003.2,740.0h13.5v13.5h-13.5zM1219.2,740.0h27.0v13.5h-27.0zM1259.8,740.0h13.5v13.5h-13.5zM1259.8,713.0h13.5v13.5h-13.5zM1340.8,726.5h13.5v27.0h-13.5zM1340.8,659.0h13.5v13.5h-13.5zM922.2,726.5h13.5v13.5h-13.5zM1003.2,713.0h40.5v27.0h-40.5zM1232.8,726.5h27.0v13.5h-27.0zM1381.2,726.5h27.0v13.5h-27.0zM1381.2,267.6h27.0v13.5h-27.0zM1435.2,726.5h27.0v13.5h-27.0zM922.2,713.0h27.0v13.5h-27.0zM1084.2,713.0h13.5v13.5h-13.5zM1111.2,713.0h27.0v13.5h-27.0zM1111.2,618.5h27.0v13.5h-27.0zM746.8,699.5h13.5v13.5h-13.5zM814.2,699.5h13.5v13.5h-13.5zM989.8,672.5h40.5v40.5h-40.5zM1286.8,699.5h27.0v13.5h-27.0zM1327.2,699.5h27.0v13.5h-27.0zM341.8,672.5h27.0v13.5h-27.0zM1084.2,672.5h27.0v13.5h-27.0zM1084.2,429.6h27.0v13.5h-27.0zM1124.8,672.5h13.5v13.5h-13.5zM1205.8,672.5h13.5v13.5h-13.5zM1246.2,672.5h54.0v13.5h-54.0zM1354.2,672.5h13.5v13.5h-13.5zM1003.2,645.5h27.0v27.0h-27.0zM1057.2,659.0h243.0v13.5h-243.0zM1043.8,645.5h121.5v13.5h-121.5zM1205.8,632.0h229.5v27.0h-229.5zM1057.2,632.0h13.5v13.5h-13.5zM1016.8,618.5h81.0v13.5h-81.0zM1178.8,618.5h81.0v13.5h-81.0zM1340.8,618.5h81.0v13.5h-81.0zM895.2,605.0h13.5v13.5h-13.5zM895.2,578.0h13.5v13.5h-13.5zM895.2,497.1h13.5v40.5h-13.5zM962.8,605.0h13.5v13.5h-13.5zM1138.2,605.0h108.0v13.5h-108.0zM1367.8,605.0h54.0v13.5h-54.0zM895.2,591.5h27.0v13.5h-27.0zM1165.2,591.5h81.0v13.5h-81.0zM1138.2,578.0h40.5v13.5h-40.5zM868.2,564.5h27.0v13.5h-27.0zM1178.8,564.5h13.5v13.5h-13.5zM314.8,551.0h40.5v13.5h-40.5zM787.2,537.5h27.0v27.0h-27.0zM881.8,537.5h13.5v27.0h-13.5zM719.8,537.5h27.0v13.5h-27.0zM247.2,524.0h13.5v13.5h-13.5zM814.2,524.0h54.0v13.5h-54.0zM814.2,470.1h27.0v13.5h-27.0zM814.2,443.1h27.0v13.5h-27.0zM152.8,456.6h13.5v13.5h-13.5zM706.2,456.6h27.0v13.5h-27.0zM814.2,456.6h40.5v13.5h-40.5zM301.2,429.6h27.0v13.5h-27.0zM1313.8,429.6h13.5v13.5h-13.5zM287.8,416.1h13.5v13.5h-13.5zM476.8,402.6h13.5v27.0h-13.5zM1313.8,416.1h81.0v13.5h-81.0zM1340.8,402.6h54.0v13.5h-54.0zM355.2,389.1h27.0v13.5h-27.0zM436.2,389.1h27.0v13.5h-27.0zM1408.2,375.6h27.0v27.0h-27.0zM1408.2,159.6h27.0v13.5h-27.0zM1597.2,362.1h13.5v40.5h-13.5zM1597.2,173.1h13.5v13.5h-13.5zM1421.8,362.1h54.0v13.5h-54.0zM395.8,348.6h13.5v13.5h-13.5zM517.2,348.6h27.0v13.5h-27.0zM1408.2,348.6h67.5v13.5h-67.5zM1489.2,348.6h40.5v13.5h-40.5zM1583.8,348.6h13.5v13.5h-13.5zM341.8,335.1h13.5v13.5h-13.5zM449.8,335.1h13.5v13.5h-13.5zM449.8,308.1h13.5v13.5h-13.5zM544.2,335.1h13.5v13.5h-13.5zM1367.8,335.1h202.5v13.5h-202.5zM1624.2,335.1h13.5v13.5h-13.5zM1624.2,186.6h13.5v13.5h-13.5zM409.2,321.6h13.5v13.5h-13.5zM1381.2,321.6h81.0v13.5h-81.0zM1516.2,321.6h67.5v13.5h-67.5zM1624.2,321.6h67.5v13.5h-67.5zM355.2,308.1h13.5v13.5h-13.5zM382.2,308.1h27.0v13.5h-27.0zM422.8,308.1h13.5v13.5h-13.5zM598.2,308.1h13.5v13.5h-13.5zM598.2,281.1h13.5v13.5h-13.5zM1381.2,308.1h54.0v13.5h-54.0zM1381.2,281.1h54.0v13.5h-54.0zM1529.8,308.1h27.0v13.5h-27.0zM1529.8,119.1h27.0v13.5h-27.0zM1583.8,308.1h54.0v13.5h-54.0zM1651.2,308.1h54.0v13.5h-54.0zM409.2,294.6h40.5v13.5h-40.5zM1354.2,294.6h27.0v13.5h-27.0zM1394.8,294.6h40.5v13.5h-40.5zM1394.8,254.1h40.5v13.5h-40.5zM1597.2,294.6h27.0v13.5h-27.0zM1597.2,200.1h27.0v13.5h-27.0zM1637.8,294.6h40.5v13.5h-40.5zM1691.8,294.6h67.5v13.5h-67.5zM1691.8,267.6h27.0v27.0h-27.0zM1732.2,281.1h27.0v13.5h-27.0zM463.2,267.6h27.0v13.5h-27.0zM1421.8,267.6h13.5v13.5h-13.5zM1583.8,267.6h81.0v13.5h-81.0zM530.8,254.1h13.5v13.5h-13.5zM1624.2,254.1h27.0v13.5h-27.0zM1718.8,254.1h13.5v13.5h-13.5zM1664.8,240.6h13.5v13.5h-13.5zM1691.8,240.6h54.0v13.5h-54.0zM1286.8,227.1h135.0v13.5h-135.0zM1651.2,227.1h13.5v13.5h-13.5zM1637.8,213.6h13.5v13.5h-13.5zM1300.2,200.1h81.0v13.5h-81.0zM1394.8,200.1h54.0v13.5h-54.0zM1367.8,186.6h67.5v13.5h-67.5zM1381.2,173.1h40.5v13.5h-40.5zM1570.2,159.6h27.0v13.5h-27.0zM1421.8,146.1h81.0v13.5h-81.0zM1570.2,146.1h13.5v13.5h-13.5zM1435.2,132.6h67.5v13.5h-67.5zM1529.8,132.6h40.5v13.5h-40.5z"/>
<path fill="#aa1806" d="M1043.8,915.5h54.0v27.0h-54.0zM1192.2,915.5h40.5v13.5h-40.5zM1057.2,902.0h81.0v13.5h-81.0zM1057.2,767.0h81.0v13.5h-81.0zM1192.2,875.0h54.0v40.5h-54.0zM1043.8,888.5h81.0v13.5h-81.0zM1151.8,888.5h13.5v13.5h-13.5zM1151.8,821.0h13.5v13.5h-13.5zM1030.2,875.0h94.5v13.5h-94.5zM1408.2,875.0h13.5v13.5h-13.5zM1408.2,267.6h13.5v13.5h-13.5zM1057.2,861.5h13.5v13.5h-13.5zM1084.2,848.0h67.5v27.0h-67.5zM1178.8,861.5h13.5v13.5h-13.5zM1205.8,861.5h40.5v13.5h-40.5zM1043.8,834.5h13.5v27.0h-13.5zM1043.8,632.0h13.5v13.5h-13.5zM1165.2,848.0h13.5v13.5h-13.5zM1165.2,551.0h13.5v27.0h-13.5zM1219.2,848.0h40.5v13.5h-40.5zM1084.2,834.5h94.5v13.5h-94.5zM1205.8,834.5h27.0v13.5h-27.0zM1084.2,821.0h13.5v13.5h-13.5zM1178.8,821.0h27.0v13.5h-27.0zM1178.8,672.5h27.0v13.5h-27.0zM1246.2,821.0h27.0v13.5h-27.0zM1246.2,794.0h27.0v13.5h-27.0zM1070.8,807.5h13.5v13.5h-13.5zM1070.8,632.0h13.5v13.5h-13.5zM1124.8,807.5h81.0v13.5h-81.0zM1124.8,632.0h81.0v13.5h-81.0zM665.8,794.0h27.0v13.5h-27.0zM665.8,510.6h27.0v27.0h-27.0zM1070.8,794.0h27.0v13.5h-27.0zM1124.8,780.5h13.5v27.0h-13.5zM1124.8,699.5h13.5v13.5h-13.5zM1151.8,794.0h54.0v13.5h-54.0zM1043.8,780.5h67.5v13.5h-67.5zM1165.2,753.5h40.5v40.5h-40.5zM1165.2,645.5h40.5v13.5h-40.5zM1246.2,780.5h40.5v13.5h-40.5zM517.2,767.0h13.5v13.5h-13.5zM679.2,767.0h27.0v13.5h-27.0zM679.2,591.5h27.0v27.0h-27.0zM719.8,767.0h13.5v13.5h-13.5zM1030.2,767.0h13.5v13.5h-13.5zM1246.2,767.0h54.0v13.5h-54.0zM463.2,753.5h13.5v13.5h-13.5zM517.2,753.5h54.0v13.5h-54.0zM517.2,281.1h54.0v27.0h-54.0zM598.2,753.5h40.5v13.5h-40.5zM1057.2,753.5h94.5v13.5h-94.5zM1259.8,753.5h67.5v13.5h-67.5zM1340.8,753.5h27.0v13.5h-27.0zM436.2,740.0h67.5v13.5h-67.5zM611.8,740.0h27.0v13.5h-27.0zM679.2,740.0h13.5v13.5h-13.5zM854.8,699.5h13.5v54.0h-13.5zM1016.8,740.0h27.0v13.5h-27.0zM1057.2,740.0h162.0v13.5h-162.0zM1246.2,740.0h13.5v13.5h-13.5zM1273.2,740.0h67.5v13.5h-67.5zM1354.2,726.5h27.0v27.0h-27.0zM1394.8,740.0h54.0v13.5h-54.0zM395.8,726.5h108.0v13.5h-108.0zM1043.8,726.5h27.0v13.5h-27.0zM1084.2,726.5h148.5v13.5h-148.5zM1259.8,726.5h81.0v13.5h-81.0zM1408.2,726.5h27.0v13.5h-27.0zM382.2,713.0h81.0v13.5h-81.0zM773.8,713.0h40.5v13.5h-40.5zM1043.8,713.0h40.5v13.5h-40.5zM1097.8,713.0h13.5v13.5h-13.5zM1138.2,713.0h121.5v13.5h-121.5zM1273.2,713.0h27.0v13.5h-27.0zM1313.8,713.0h54.0v13.5h-54.0zM1381.2,713.0h81.0v13.5h-81.0zM382.2,699.5h13.5v13.5h-13.5zM436.2,699.5h13.5v13.5h-13.5zM760.2,699.5h13.5v13.5h-13.5zM760.2,456.6h13.5v27.0h-13.5zM787.2,699.5h27.0v13.5h-27.0zM1030.2,699.5h81.0v13.5h-81.0zM1151.8,699.5h135.0v13.5h-135.0zM1313.8,699.5h13.5v13.5h-13.5zM1354.2,699.5h108.0v13.5h-108.0zM328.2,686.0h27.0v13.5h-27.0zM814.2,686.0h13.5v13.5h-13.5zM814.2,618.5h13.5v13.5h-13.5zM1030.2,686.0h256.5v13.5h-256.5zM1300.2,686.0h27.0v13.5h-27.0zM1340.8,686.0h121.5v13.5h-121.5zM976.2,672.5h13.5v13.5h-13.5zM1030.2,672.5h54.0v13.5h-54.0zM1111.2,672.5h13.5v13.5h-13.5zM1219.2,672.5h27.0v13.5h-27.0zM1300.2,672.5h54.0v13.5h-54.0zM1367.8,672.5h94.5v13.5h-94.5zM1030.2,659.0h27.0v13.5h-27.0zM1313.8,659.0h27.0v13.5h-27.0zM1354.2,659.0h13.5v13.5h-13.5zM1381.2,659.0h67.5v13.5h-67.5zM841.2,645.5h27.0v13.5h-27.0zM814.2,632.0h67.5v13.5h-67.5zM922.2,632.0h13.5v13.5h-13.5zM854.8,618.5h40.5v13.5h-40.5zM854.8,578.0h40.5v27.0h-40.5zM1138.2,618.5h40.5v13.5h-40.5zM746.8,605.0h40.5v13.5h-40.5zM814.2,605.0h81.0v13.5h-81.0zM746.8,578.0h94.5v27.0h-94.5zM638.8,578.0h94.5v13.5h-94.5zM1178.8,578.0h54.0v13.5h-54.0zM638.8,564.5h229.5v13.5h-229.5zM1138.2,564.5h13.5v13.5h-13.5zM1192.2,564.5h13.5v13.5h-13.5zM638.8,551.0h27.0v13.5h-27.0zM814.2,551.0h27.0v13.5h-27.0zM854.8,537.5h27.0v27.0h-27.0zM287.8,537.5h13.5v13.5h-13.5zM625.2,537.5h27.0v13.5h-27.0zM233.8,524.0h13.5v13.5h-13.5zM584.8,524.0h27.0v13.5h-27.0zM584.8,321.6h27.0v13.5h-27.0zM868.2,524.0h13.5v13.5h-13.5zM773.8,510.6h108.0v13.5h-108.0zM800.8,497.1h67.5v13.5h-67.5zM773.8,483.6h94.5v13.5h-94.5zM1610.8,375.6h13.5v13.5h-13.5zM490.2,348.6h27.0v13.5h-27.0zM463.2,335.1h81.0v13.5h-81.0zM557.8,335.1h54.0v13.5h-54.0zM382.2,321.6h27.0v13.5h-27.0zM422.8,321.6h148.5v13.5h-148.5zM1462.2,321.6h54.0v13.5h-54.0zM409.2,308.1h13.5v13.5h-13.5zM463.2,308.1h94.5v13.5h-94.5zM1435.2,308.1h94.5v13.5h-94.5zM1556.8,308.1h27.0v13.5h-27.0zM449.8,294.6h13.5v13.5h-13.5zM1435.2,294.6h162.0v13.5h-162.0zM1624.2,294.6h13.5v13.5h-13.5zM1624.2,200.1h13.5v13.5h-13.5zM1435.2,281.1h256.5v13.5h-256.5zM490.2,267.6h108.0v13.5h-108.0zM1435.2,267.6h148.5v13.5h-148.5zM1664.8,267.6h27.0v13.5h-27.0zM544.2,254.1h27.0v13.5h-27.0zM1435.2,254.1h189.0v13.5h-189.0zM1435.2,186.6h189.0v13.5h-189.0zM1651.2,254.1h67.5v13.5h-67.5zM530.8,240.6h27.0v13.5h-27.0zM1421.8,240.6h243.0v13.5h-243.0zM1678.2,240.6h13.5v13.5h-13.5zM1435.2,227.1h216.0v13.5h-216.0zM1435.2,213.6h202.5v13.5h-202.5zM1381.2,200.1h13.5v13.5h-13.5zM1448.8,200.1h148.5v13.5h-148.5zM1421.8,173.1h175.5v13.5h-175.5zM1435.2,159.6h135.0v13.5h-135.0zM1502.8,146.1h67.5v13.5h-67.5z"/>
<path fill="#a008f8" d="M652.2,699.5h13.5v13.5h-13.5zM733.2,659.0h13.5v13.5h-13.5z"/>
<path fill="#5048f8" d="M665.8,699.5h27.0v13.5h-27.0zM733.2,672.5h13.5v13.5h-13.5zM719.8,659.0h13.5v13.5h-13.5zM598.2,240.6h13.5v13.5h-13.5z"/>
<path fill="#08eaea" d="M679.2,686.0h13.5v13.5h-13.5zM611.8,254.1h13.5v13.5h-13.5zM517.2,200.1h13.5v13.5h-13.5z"/>
<use href="#mask"/>

<use href="#prov"/>
</g>
<use href="#land" fill="none" stroke="#3a3a3a" stroke-width="1.5" stroke-linejoin="round"/>
<use href="#sea"/>
<g stroke="#000" stroke-opacity="0.5" stroke-width="1.5" fill="none"><line x1="321.5" y1="47.6" x2="321.5" y2="1445.8"/><line x1="591.5" y1="47.6" x2="591.5" y2="1445.8"/><line x1="861.5" y1="47.6" x2="861.5" y2="1445.8"/><line x1="1131.5" y1="47.6" x2="1131.5" y2="1445.8"/><line x1="1401.5" y1="47.6" x2="1401.5" y2="1445.8"/><line x1="1671.5" y1="47.6" x2="1671.5" y2="1445.8"/><line x1="134.8" y1="1259.8" x2="1831.4" y2="1259.8" stroke-width="1.9" stroke-opacity="0.42"/><line x1="134.8" y1="989.8" x2="1831.4" y2="989.8" stroke-width="1.9" stroke-opacity="0.42"/><line x1="134.8" y1="719.8" x2="1831.4" y2="719.8" stroke-width="1.9" stroke-opacity="0.42"/><line x1="134.8" y1="449.8" x2="1831.4" y2="449.8" stroke-width="1.9" stroke-opacity="0.42"/><line x1="134.8" y1="179.8" x2="1831.4" y2="179.8" stroke-width="1.9" stroke-opacity="0.42"/></g>
<g transform="translate(0,0)">
<rect x="166.0" y="977" width="873" height="299" fill="#fff"/>
<rect x="183.3" y="1059" width="135.3" height="65.5" fill="#a008f8"/>
<rect x="318.1" y="1059" width="135.3" height="65.5" fill="#5048f8"/>
<rect x="453.0" y="1059" width="135.3" height="65.5" fill="#08eaea"/>
<rect x="587.8" y="1059" width="135.3" height="65.5" fill="#e8e80c"/>
<rect x="722.7" y="1059" width="135.3" height="65.5" fill="#ff8c1a"/>
<rect x="857.5" y="1059" width="135.3" height="65.5" fill="#aa1806"/>
<g font-family='"Liberation Serif", "DejaVu Serif", serif' font-size="44" fill="#1a1a1a">
<text x="578.4" y="1031.3" font-size="45.5" text-anchor="middle">Trend (℃/yr)</text>
<text x="355.4" y="1177.6" text-anchor="end">-0.05</text>
<text x="495.3" y="1177.6" text-anchor="end">-0.04</text>
<text x="631.7" y="1177.6" text-anchor="end">0.00</text>
<text x="769.2" y="1177.6" text-anchor="end">0.04</text>
<text x="905.5" y="1177.6" text-anchor="end">0.05</text>
<rect x="184.3" y="1215.8" width="94" height="36.5" fill="#686868" stroke="#2a2a2a" stroke-width="2.2"/>
<text x="294.6" y="1244.3" font-size="40.5">masked</text>
<rect x="437.0" y="1215.8" width="94" height="36.5" fill="#cbcbcb" stroke="#2a2a2a" stroke-width="2.2"/>
<text x="547.3" y="1244.3" font-size="40.5">insignificant</text>
<rect x="770.0" y="1215.8" width="94" height="36.5" fill="#fff" stroke="#2a2a2a" stroke-width="2.2"/>
<text x="880.3" y="1244.3" font-size="40.5">nodata</text>
</g></g>
<path d="M118.0,30.8H1848.2V1462.6H118.0Z M134.8,47.6V1445.8H1831.4V47.6Z" fill="#000" fill-rule="evenodd"/>
<rect x="322.5" y="36.4" width="268.0" height="6.0" fill="#fff"/>
<rect x="322.5" y="1451.4" width="268.0" height="6.0" fill="#fff"/>
<rect x="862.5" y="36.4" width="268.0" height="6.0" fill="#fff"/>
<rect x="862.5" y="1451.4" width="268.0" height="6.0" fill="#fff"/>
<rect x="1402.5" y="36.4" width="268.0" height="6.0" fill="#fff"/>
<rect x="1402.5" y="1451.4" width="268.0" height="6.0" fill="#fff"/>
<rect x="123.6" y="180.8" width="6.0" height="268.0" fill="#fff"/>
<rect x="1837.0" y="180.8" width="6.0" height="268.0" fill="#fff"/>
<rect x="123.6" y="720.8" width="6.0" height="268.0" fill="#fff"/>
<rect x="1837.0" y="720.8" width="6.0" height="268.0" fill="#fff"/>
<rect x="123.6" y="1260.8" width="6.0" height="184.0" fill="#fff"/>
<rect x="1837.0" y="1260.8" width="6.0" height="184.0" fill="#fff"/>
<rect x="123.1" y="35.9" width="6" height="6" fill="#fff"/>
<rect x="123.1" y="1450.9" width="6" height="6" fill="#fff"/>
<rect x="1836.5" y="35.9" width="6" height="6" fill="#fff"/>
<rect x="1836.5" y="1450.9" width="6" height="6" fill="#fff"/>
<g font-family='"Liberation Serif", "DejaVu Serif", serif' font-size="41.2" fill="#1a1a1a"><text x="321.5" y="28.2" text-anchor="middle">80°0'E</text><text x="321.5" y="1494.8" text-anchor="middle">80°0'E</text><text x="591.5" y="28.2" text-anchor="middle">90°0'E</text><text x="591.5" y="1494.8" text-anchor="middle">90°0'E</text><text x="861.5" y="28.2" text-anchor="middle">100°0'E</text><text x="861.5" y="1494.8" text-anchor="middle">100°0'E</text><text x="1131.5" y="28.2" text-anchor="middle">110°0'E</text><text x="1131.5" y="1494.8" text-anchor="middle">110°0'E</text><text x="1401.5" y="28.2" text-anchor="middle">120°0'E</text><text x="1401.5" y="1494.8" text-anchor="middle">120°0'E</text><text x="1671.5" y="28.2" text-anchor="middle">130°0'E</text><text x="1671.5" y="1494.8" text-anchor="middle">130°0'E</text><text x="112.5" y="1273.8" text-anchor="end">10°0'N</text><text x="1852.5" y="1273.8" text-anchor="start">10°0'N</text><text x="112.5" y="1003.8" text-anchor="end">20°0'N</text><text x="1852.5" y="1003.8" text-anchor="start">20°0'N</text><text x="112.5" y="733.8" text-anchor="end">30°0'N</text><text x="1852.5" y="733.8" text-anchor="start">30°0'N</text><text x="112.5" y="463.8" text-anchor="end">40°0'N</text><text x="1852.5" y="463.8" text-anchor="start">40°0'N</text><text x="112.5" y="193.8" text-anchor="end">50°0'N</text><text x="1852.5" y="193.8" text-anchor="start">50°0'N</text></g>
</g>
<text x="1970.5" y="1495" font-family='"Liberation Serif", "DejaVu Serif", serif' font-weight="bold" font-size="82" fill="#000">(b)</text>
<g transform="translate(4.6,1554.6)">
<g clip-path="url(#landclip)">
<use href="#land" fill="#cbcbcb"/>
<path fill="#a008f8" d="M1111.2,1010.0h27.0v13.5h-27.0zM1165.2,929.0h13.5v13.5h-13.5zM1205.8,915.5h13.5v13.5h-13.5zM557.8,780.5h13.5v13.5h-13.5zM679.2,780.5h13.5v13.5h-13.5zM652.2,767.0h13.5v13.5h-13.5zM463.2,753.5h40.5v13.5h-40.5zM463.2,254.1h40.5v13.5h-40.5zM692.8,753.5h13.5v13.5h-13.5zM436.2,740.0h13.5v13.5h-13.5zM733.2,740.0h13.5v13.5h-13.5zM895.2,740.0h27.0v13.5h-27.0zM895.2,726.5h67.5v13.5h-67.5zM449.8,713.0h40.5v13.5h-40.5zM584.8,713.0h27.0v13.5h-27.0zM895.2,713.0h81.0v13.5h-81.0zM895.2,551.0h81.0v13.5h-81.0zM895.2,699.5h54.0v13.5h-54.0zM962.8,699.5h27.0v13.5h-27.0zM895.2,672.5h13.5v27.0h-13.5zM922.2,686.0h40.5v13.5h-40.5zM922.2,537.5h40.5v13.5h-40.5zM976.2,686.0h27.0v13.5h-27.0zM449.8,672.5h27.0v13.5h-27.0zM490.2,672.5h13.5v13.5h-13.5zM544.2,672.5h13.5v13.5h-13.5zM544.2,335.1h13.5v13.5h-13.5zM584.8,672.5h13.5v13.5h-13.5zM922.2,672.5h94.5v13.5h-94.5zM625.2,659.0h27.0v13.5h-27.0zM908.8,659.0h121.5v13.5h-121.5zM517.2,645.5h27.0v13.5h-27.0zM881.8,645.5h162.0v13.5h-162.0zM895.2,618.5h121.5v27.0h-121.5zM868.2,605.0h148.5v13.5h-148.5zM665.8,591.5h27.0v13.5h-27.0zM746.8,591.5h27.0v13.5h-27.0zM841.2,591.5h175.5v13.5h-175.5zM1030.2,578.0h13.5v27.0h-13.5zM841.2,578.0h27.0v13.5h-27.0zM841.2,551.0h27.0v13.5h-27.0zM881.8,578.0h121.5v13.5h-121.5zM760.2,564.5h54.0v13.5h-54.0zM841.2,564.5h40.5v13.5h-40.5zM895.2,564.5h94.5v13.5h-94.5zM746.8,551.0h67.5v13.5h-67.5zM814.2,537.5h94.5v13.5h-94.5zM868.2,524.0h94.5v13.5h-94.5zM787.2,510.6h121.5v13.5h-121.5zM935.8,510.6h27.0v13.5h-27.0zM760.2,497.1h108.0v13.5h-108.0zM787.2,483.6h54.0v13.5h-54.0z"/>
<path fill="#aa1806" d="M881.8,956.0h27.0v13.5h-27.0zM787.2,942.5h121.5v13.5h-121.5zM787.2,929.0h135.0v13.5h-135.0zM1043.8,929.0h13.5v13.5h-13.5zM787.2,902.0h297.0v27.0h-297.0zM787.2,875.0h310.5v27.0h-310.5zM1435.2,888.5h13.5v13.5h-13.5zM1435.2,861.5h13.5v13.5h-13.5zM1421.8,875.0h27.0v13.5h-27.0zM787.2,861.5h337.5v13.5h-337.5zM800.8,848.0h324.0v13.5h-324.0zM841.2,834.5h310.5v13.5h-310.5zM868.2,821.0h13.5v13.5h-13.5zM908.8,821.0h229.5v13.5h-229.5zM1151.8,821.0h40.5v13.5h-40.5zM935.8,807.5h13.5v13.5h-13.5zM962.8,807.5h189.0v13.5h-189.0zM1165.2,807.5h40.5v13.5h-40.5zM1165.2,443.1h40.5v27.0h-40.5zM962.8,794.0h256.5v13.5h-256.5zM1232.8,794.0h27.0v13.5h-27.0zM1232.8,686.0h27.0v13.5h-27.0zM1232.8,416.1h27.0v13.5h-27.0zM1003.2,780.5h324.0v13.5h-324.0zM1016.8,767.0h108.0v13.5h-108.0zM1151.8,767.0h13.5v13.5h-13.5zM1192.2,767.0h27.0v13.5h-27.0zM1232.8,767.0h81.0v13.5h-81.0zM1043.8,753.5h27.0v13.5h-27.0zM1084.2,753.5h81.0v13.5h-81.0zM1192.2,753.5h13.5v13.5h-13.5zM1219.2,753.5h13.5v13.5h-13.5zM1219.2,510.6h13.5v27.0h-13.5zM1259.8,753.5h27.0v13.5h-27.0zM1057.2,740.0h27.0v13.5h-27.0zM1111.2,740.0h54.0v13.5h-54.0zM1246.2,740.0h13.5v13.5h-13.5zM1273.2,740.0h40.5v13.5h-40.5zM1138.2,726.5h13.5v13.5h-13.5zM1138.2,443.1h13.5v13.5h-13.5zM1178.8,726.5h13.5v13.5h-13.5zM1178.8,605.0h13.5v27.0h-13.5zM1259.8,726.5h67.5v13.5h-67.5zM1097.8,713.0h27.0v13.5h-27.0zM1138.2,713.0h27.0v13.5h-27.0zM1138.2,416.1h27.0v13.5h-27.0zM1178.8,713.0h27.0v13.5h-27.0zM1259.8,713.0h54.0v13.5h-54.0zM1084.2,699.5h27.0v13.5h-27.0zM1124.8,699.5h13.5v13.5h-13.5zM1124.8,483.6h13.5v13.5h-13.5zM1205.8,699.5h81.0v13.5h-81.0zM287.8,537.5h67.5v13.5h-67.5zM368.8,537.5h13.5v13.5h-13.5zM368.8,362.1h13.5v13.5h-13.5zM1165.2,524.0h13.5v27.0h-13.5zM220.2,497.1h27.0v40.5h-27.0zM287.8,524.0h27.0v13.5h-27.0zM328.2,524.0h40.5v13.5h-40.5zM1165.2,470.1h27.0v40.5h-27.0zM206.8,483.6h54.0v13.5h-54.0zM193.2,470.1h27.0v13.5h-27.0zM233.8,470.1h27.0v13.5h-27.0zM179.8,456.6h13.5v13.5h-13.5zM233.8,456.6h40.5v13.5h-40.5zM1124.8,456.6h27.0v13.5h-27.0zM179.8,443.1h27.0v13.5h-27.0zM260.8,443.1h54.0v13.5h-54.0zM193.2,429.6h40.5v13.5h-40.5zM260.8,429.6h108.0v13.5h-108.0zM1192.2,429.6h54.0v13.5h-54.0zM260.8,416.1h67.5v13.5h-67.5zM341.8,416.1h94.5v13.5h-94.5zM1286.8,416.1h13.5v13.5h-13.5zM260.8,402.6h40.5v13.5h-40.5zM355.2,402.6h27.0v13.5h-27.0zM1273.2,402.6h27.0v13.5h-27.0zM328.2,389.1h54.0v13.5h-54.0zM328.2,375.6h94.5v13.5h-94.5zM1273.2,362.1h13.5v13.5h-13.5zM382.2,335.1h27.0v13.5h-27.0zM422.8,335.1h40.5v13.5h-40.5zM341.8,308.1h27.0v13.5h-27.0zM1543.2,92.1h13.5v13.5h-13.5z"/>
<path fill="#ff8c1a" d="M854.8,821.0h13.5v13.5h-13.5zM868.2,807.5h40.5v13.5h-40.5zM949.2,807.5h13.5v13.5h-13.5zM989.8,780.5h13.5v13.5h-13.5zM1124.8,767.0h27.0v13.5h-27.0zM1043.8,740.0h13.5v13.5h-13.5zM1151.8,726.5h27.0v13.5h-27.0zM1111.2,672.5h13.5v13.5h-13.5zM1111.2,483.6h13.5v13.5h-13.5zM1111.2,456.6h13.5v13.5h-13.5zM1165.2,618.5h13.5v13.5h-13.5zM1192.2,605.0h13.5v27.0h-13.5zM1138.2,605.0h27.0v13.5h-27.0zM1138.2,537.5h27.0v27.0h-27.0zM1138.2,483.6h27.0v13.5h-27.0zM1151.8,591.5h13.5v13.5h-13.5zM1151.8,443.1h13.5v27.0h-13.5zM1138.2,564.5h13.5v27.0h-13.5zM1165.2,564.5h27.0v13.5h-27.0zM1205.8,551.0h27.0v13.5h-27.0zM1178.8,537.5h54.0v13.5h-54.0zM1111.2,524.0h54.0v13.5h-54.0zM1111.2,470.1h54.0v13.5h-54.0zM1178.8,524.0h27.0v13.5h-27.0zM1232.8,510.6h13.5v27.0h-13.5zM206.8,497.1h13.5v27.0h-13.5zM247.2,510.6h13.5v13.5h-13.5zM301.2,510.6h27.0v13.5h-27.0zM1111.2,510.6h27.0v13.5h-27.0zM1111.2,443.1h27.0v13.5h-27.0zM1151.8,510.6h67.5v13.5h-67.5zM1124.8,497.1h40.5v13.5h-40.5zM1219.2,497.1h27.0v13.5h-27.0zM1192.2,470.1h54.0v27.0h-54.0zM220.2,470.1h13.5v13.5h-13.5zM193.2,456.6h40.5v13.5h-40.5zM1205.8,443.1h54.0v27.0h-54.0zM152.8,443.1h27.0v13.5h-27.0zM206.8,443.1h27.0v13.5h-27.0zM233.8,416.1h27.0v27.0h-27.0zM1124.8,429.6h67.5v13.5h-67.5zM1246.2,429.6h13.5v13.5h-13.5zM1273.2,429.6h13.5v13.5h-13.5zM1313.8,429.6h40.5v13.5h-40.5zM1313.8,267.6h40.5v13.5h-40.5zM328.2,416.1h13.5v13.5h-13.5zM436.2,416.1h40.5v13.5h-40.5zM1165.2,416.1h67.5v13.5h-67.5zM1259.8,416.1h27.0v13.5h-27.0zM1259.8,308.1h27.0v13.5h-27.0zM1300.2,416.1h54.0v13.5h-54.0zM328.2,402.6h27.0v13.5h-27.0zM395.8,402.6h27.0v13.5h-27.0zM476.8,402.6h13.5v13.5h-13.5zM1151.8,402.6h121.5v13.5h-121.5zM1300.2,402.6h13.5v13.5h-13.5zM1340.8,402.6h13.5v13.5h-13.5zM1219.2,389.1h121.5v13.5h-121.5zM1219.2,348.6h121.5v13.5h-121.5zM1570.2,389.1h40.5v13.5h-40.5zM422.8,375.6h27.0v13.5h-27.0zM1219.2,375.6h135.0v13.5h-135.0zM1597.2,375.6h40.5v13.5h-40.5zM328.2,362.1h40.5v13.5h-40.5zM382.2,362.1h13.5v13.5h-13.5zM382.2,294.6h13.5v13.5h-13.5zM1219.2,362.1h54.0v13.5h-54.0zM1286.8,362.1h108.0v13.5h-108.0zM1624.2,335.1h13.5v40.5h-13.5zM449.8,348.6h13.5v13.5h-13.5zM692.8,348.6h13.5v13.5h-13.5zM1381.2,348.6h13.5v13.5h-13.5zM1664.8,348.6h40.5v13.5h-40.5zM368.8,335.1h13.5v13.5h-13.5zM1219.2,335.1h175.5v13.5h-175.5zM1408.2,335.1h27.0v13.5h-27.0zM1219.2,321.6h216.0v13.5h-216.0zM1462.2,321.6h13.5v13.5h-13.5zM1610.8,321.6h13.5v13.5h-13.5zM1205.8,308.1h40.5v13.5h-40.5zM1300.2,308.1h40.5v13.5h-40.5zM1300.2,281.1h40.5v13.5h-40.5zM1367.8,294.6h81.0v27.0h-81.0zM1462.2,294.6h27.0v27.0h-27.0zM1273.2,294.6h67.5v13.5h-67.5zM1583.8,294.6h13.5v13.5h-13.5zM1381.2,281.1h121.5v13.5h-121.5zM1597.2,281.1h13.5v13.5h-13.5zM1367.8,267.6h135.0v13.5h-135.0zM1394.8,254.1h108.0v13.5h-108.0zM1394.8,240.6h121.5v13.5h-121.5zM1286.8,227.1h40.5v13.5h-40.5zM1421.8,227.1h94.5v13.5h-94.5zM1529.8,227.1h40.5v13.5h-40.5zM1745.8,227.1h27.0v13.5h-27.0zM1286.8,200.1h27.0v27.0h-27.0zM1435.2,213.6h121.5v13.5h-121.5zM1448.8,200.1h81.0v13.5h-81.0zM1300.2,186.6h27.0v13.5h-27.0zM1462.2,186.6h67.5v13.5h-67.5zM1448.8,173.1h94.5v13.5h-94.5zM1556.8,173.1h27.0v13.5h-27.0zM1448.8,146.1h148.5v27.0h-148.5zM1462.2,132.6h121.5v13.5h-121.5zM1489.2,119.1h94.5v13.5h-94.5zM1516.2,105.6h54.0v13.5h-54.0zM1516.2,92.1h27.0v13.5h-27.0z"/>
<path fill="#5048f8" d="M517.2,767.0h13.5v13.5h-13.5zM544.2,753.5h27.0v13.5h-27.0zM611.8,753.5h27.0v13.5h-27.0zM544.2,726.5h13.5v27.0h-13.5zM544.2,645.5h13.5v13.5h-13.5zM584.8,726.5h13.5v27.0h-13.5zM584.8,618.5h13.5v13.5h-13.5zM652.2,740.0h13.5v13.5h-13.5zM490.2,726.5h27.0v13.5h-27.0zM490.2,321.6h27.0v13.5h-27.0zM625.2,726.5h54.0v13.5h-54.0zM841.2,726.5h13.5v13.5h-13.5zM841.2,699.5h13.5v13.5h-13.5zM841.2,470.1h13.5v13.5h-13.5zM436.2,713.0h13.5v13.5h-13.5zM490.2,713.0h94.5v13.5h-94.5zM611.8,713.0h54.0v13.5h-54.0zM611.8,686.0h54.0v13.5h-54.0zM841.2,713.0h27.0v13.5h-27.0zM341.8,699.5h13.5v13.5h-13.5zM422.8,699.5h40.5v13.5h-40.5zM476.8,699.5h27.0v13.5h-27.0zM517.2,699.5h27.0v13.5h-27.0zM571.2,699.5h13.5v13.5h-13.5zM598.2,699.5h54.0v13.5h-54.0zM949.2,699.5h13.5v13.5h-13.5zM476.8,686.0h81.0v13.5h-81.0zM571.2,686.0h27.0v13.5h-27.0zM962.8,686.0h13.5v13.5h-13.5zM962.8,524.0h13.5v13.5h-13.5zM476.8,672.5h13.5v13.5h-13.5zM503.8,672.5h13.5v13.5h-13.5zM503.8,254.1h13.5v13.5h-13.5zM530.8,672.5h13.5v13.5h-13.5zM557.8,672.5h27.0v13.5h-27.0zM598.2,672.5h94.5v13.5h-94.5zM868.2,672.5h27.0v13.5h-27.0zM868.2,551.0h27.0v13.5h-27.0zM382.2,659.0h54.0v13.5h-54.0zM503.8,659.0h81.0v13.5h-81.0zM598.2,659.0h27.0v13.5h-27.0zM598.2,591.5h27.0v13.5h-27.0zM652.2,659.0h40.5v13.5h-40.5zM881.8,659.0h27.0v13.5h-27.0zM571.2,645.5h40.5v13.5h-40.5zM638.8,645.5h40.5v13.5h-40.5zM854.8,645.5h27.0v13.5h-27.0zM449.8,632.0h40.5v13.5h-40.5zM557.8,632.0h13.5v13.5h-13.5zM598.2,632.0h13.5v13.5h-13.5zM841.2,632.0h54.0v13.5h-54.0zM490.2,618.5h13.5v13.5h-13.5zM652.2,618.5h54.0v13.5h-54.0zM719.8,618.5h27.0v13.5h-27.0zM827.8,618.5h67.5v13.5h-67.5zM611.8,605.0h40.5v13.5h-40.5zM665.8,605.0h81.0v13.5h-81.0zM692.8,591.5h54.0v13.5h-54.0zM800.8,591.5h13.5v13.5h-13.5zM827.8,578.0h13.5v27.0h-13.5zM1016.8,591.5h13.5v13.5h-13.5zM652.2,578.0h121.5v13.5h-121.5zM868.2,578.0h13.5v13.5h-13.5zM1003.2,578.0h27.0v13.5h-27.0zM665.8,564.5h67.5v13.5h-67.5zM814.2,551.0h27.0v27.0h-27.0zM881.8,564.5h13.5v13.5h-13.5zM989.8,564.5h40.5v13.5h-40.5zM679.2,551.0h67.5v13.5h-67.5zM976.2,551.0h27.0v13.5h-27.0zM908.8,537.5h13.5v13.5h-13.5zM1003.2,537.5h13.5v13.5h-13.5zM814.2,524.0h54.0v13.5h-54.0zM908.8,510.6h27.0v13.5h-27.0zM868.2,497.1h40.5v13.5h-40.5zM760.2,483.6h13.5v13.5h-13.5zM841.2,483.6h40.5v13.5h-40.5zM530.8,254.1h27.0v13.5h-27.0zM476.8,240.6h40.5v13.5h-40.5z"/>
<path fill="#08eaea" d="M503.8,753.5h40.5v13.5h-40.5zM503.8,618.5h40.5v13.5h-40.5zM571.2,753.5h13.5v13.5h-13.5zM571.2,632.0h13.5v13.5h-13.5zM665.8,740.0h13.5v27.0h-13.5zM665.8,686.0h13.5v13.5h-13.5zM476.8,740.0h67.5v13.5h-67.5zM557.8,740.0h27.0v13.5h-27.0zM557.8,605.0h27.0v27.0h-27.0zM598.2,740.0h54.0v13.5h-54.0zM476.8,726.5h13.5v13.5h-13.5zM476.8,321.6h13.5v13.5h-13.5zM517.2,726.5h27.0v13.5h-27.0zM517.2,240.6h27.0v13.5h-27.0zM557.8,726.5h13.5v13.5h-13.5zM557.8,686.0h13.5v13.5h-13.5zM557.8,645.5h13.5v13.5h-13.5zM557.8,578.0h13.5v13.5h-13.5zM557.8,281.1h13.5v13.5h-13.5zM598.2,726.5h27.0v13.5h-27.0zM598.2,618.5h27.0v13.5h-27.0zM800.8,726.5h13.5v13.5h-13.5zM868.2,713.0h27.0v27.0h-27.0zM409.2,699.5h13.5v13.5h-13.5zM463.2,699.5h13.5v13.5h-13.5zM503.8,699.5h13.5v13.5h-13.5zM544.2,699.5h27.0v13.5h-27.0zM584.8,699.5h13.5v13.5h-13.5zM652.2,699.5h27.0v13.5h-27.0zM814.2,699.5h27.0v13.5h-27.0zM854.8,699.5h40.5v13.5h-40.5zM409.2,686.0h67.5v13.5h-67.5zM598.2,686.0h13.5v13.5h-13.5zM598.2,281.1h13.5v13.5h-13.5zM841.2,686.0h54.0v13.5h-54.0zM341.8,672.5h40.5v13.5h-40.5zM409.2,672.5h40.5v13.5h-40.5zM517.2,672.5h13.5v13.5h-13.5zM517.2,281.1h13.5v13.5h-13.5zM517.2,254.1h13.5v13.5h-13.5zM692.8,672.5h13.5v13.5h-13.5zM719.8,672.5h13.5v13.5h-13.5zM908.8,672.5h13.5v13.5h-13.5zM341.8,659.0h13.5v13.5h-13.5zM436.2,659.0h67.5v13.5h-67.5zM868.2,659.0h13.5v13.5h-13.5zM382.2,645.5h40.5v13.5h-40.5zM436.2,645.5h81.0v13.5h-81.0zM611.8,645.5h27.0v13.5h-27.0zM773.8,645.5h13.5v13.5h-13.5zM773.8,483.6h13.5v13.5h-13.5zM841.2,645.5h13.5v13.5h-13.5zM436.2,632.0h13.5v13.5h-13.5zM436.2,267.6h13.5v13.5h-13.5zM490.2,632.0h27.0v13.5h-27.0zM530.8,632.0h27.0v13.5h-27.0zM611.8,632.0h40.5v13.5h-40.5zM746.8,632.0h27.0v13.5h-27.0zM827.8,632.0h13.5v13.5h-13.5zM436.2,618.5h54.0v13.5h-54.0zM638.8,618.5h13.5v13.5h-13.5zM706.2,618.5h13.5v13.5h-13.5zM746.8,605.0h40.5v27.0h-40.5zM652.2,605.0h13.5v13.5h-13.5zM854.8,605.0h13.5v13.5h-13.5zM773.8,591.5h27.0v13.5h-27.0zM814.2,591.5h13.5v13.5h-13.5zM584.8,578.0h27.0v13.5h-27.0zM773.8,578.0h54.0v13.5h-54.0zM638.8,564.5h27.0v13.5h-27.0zM746.8,564.5h13.5v13.5h-13.5zM1030.2,564.5h13.5v13.5h-13.5zM638.8,551.0h40.5v13.5h-40.5zM1016.8,551.0h27.0v13.5h-27.0zM1016.8,497.1h27.0v13.5h-27.0zM719.8,537.5h81.0v13.5h-81.0zM962.8,537.5h40.5v13.5h-40.5zM1016.8,537.5h13.5v13.5h-13.5zM976.2,524.0h40.5v13.5h-40.5zM962.8,510.6h54.0v13.5h-54.0zM908.8,497.1h40.5v13.5h-40.5zM881.8,483.6h40.5v13.5h-40.5zM1003.2,483.6h13.5v13.5h-13.5zM854.8,470.1h54.0v13.5h-54.0zM935.8,470.1h27.0v13.5h-27.0zM841.2,456.6h27.0v13.5h-27.0zM530.8,321.6h13.5v13.5h-13.5zM476.8,308.1h27.0v13.5h-27.0zM476.8,227.1h27.0v13.5h-27.0zM517.2,308.1h40.5v13.5h-40.5zM517.2,294.6h54.0v13.5h-54.0zM476.8,267.6h108.0v13.5h-108.0zM557.8,254.1h40.5v13.5h-40.5z"/>
<path fill="#e8e80c" d="M1165.2,605.0h13.5v13.5h-13.5zM1165.2,591.5h54.0v13.5h-54.0zM1165.2,348.6h54.0v13.5h-54.0zM1151.8,578.0h81.0v13.5h-81.0zM1151.8,564.5h13.5v13.5h-13.5zM1192.2,564.5h54.0v13.5h-54.0zM1070.8,551.0h27.0v13.5h-27.0zM1111.2,537.5h27.0v27.0h-27.0zM1165.2,551.0h40.5v13.5h-40.5zM1232.8,537.5h13.5v27.0h-13.5zM355.2,537.5h13.5v13.5h-13.5zM355.2,335.1h13.5v13.5h-13.5zM422.8,537.5h13.5v13.5h-13.5zM422.8,321.6h13.5v13.5h-13.5zM395.8,524.0h13.5v13.5h-13.5zM463.2,524.0h13.5v13.5h-13.5zM463.2,335.1h13.5v13.5h-13.5zM1084.2,510.6h27.0v27.0h-27.0zM1205.8,524.0h13.5v13.5h-13.5zM328.2,510.6h13.5v13.5h-13.5zM1138.2,510.6h13.5v13.5h-13.5zM1097.8,497.1h27.0v13.5h-27.0zM1192.2,497.1h27.0v13.5h-27.0zM463.2,483.6h27.0v13.5h-27.0zM1070.8,443.1h40.5v54.0h-40.5zM773.8,456.6h13.5v13.5h-13.5zM1273.2,456.6h13.5v13.5h-13.5zM1259.8,443.1h40.5v13.5h-40.5zM1313.8,443.1h27.0v13.5h-27.0zM1313.8,402.6h27.0v13.5h-27.0zM1070.8,429.6h54.0v13.5h-54.0zM1259.8,429.6h13.5v13.5h-13.5zM1286.8,429.6h27.0v13.5h-27.0zM1354.2,429.6h13.5v13.5h-13.5zM1354.2,267.6h13.5v13.5h-13.5zM1394.8,429.6h27.0v13.5h-27.0zM476.8,416.1h54.0v13.5h-54.0zM1097.8,416.1h40.5v13.5h-40.5zM1354.2,416.1h40.5v13.5h-40.5zM1408.2,416.1h27.0v13.5h-27.0zM301.2,402.6h27.0v13.5h-27.0zM382.2,402.6h13.5v13.5h-13.5zM422.8,402.6h27.0v13.5h-27.0zM490.2,402.6h13.5v13.5h-13.5zM1097.8,402.6h54.0v13.5h-54.0zM1354.2,402.6h67.5v13.5h-67.5zM1448.8,402.6h13.5v13.5h-13.5zM476.8,375.6h27.0v27.0h-27.0zM1097.8,375.6h121.5v27.0h-121.5zM1340.8,389.1h81.0v13.5h-81.0zM1610.8,389.1h13.5v13.5h-13.5zM1354.2,375.6h81.0v13.5h-81.0zM1583.8,375.6h13.5v13.5h-13.5zM1583.8,281.1h13.5v13.5h-13.5zM1637.8,375.6h27.0v13.5h-27.0zM1637.8,348.6h27.0v13.5h-27.0zM449.8,362.1h27.0v13.5h-27.0zM544.2,362.1h67.5v13.5h-67.5zM679.2,362.1h27.0v13.5h-27.0zM1138.2,362.1h81.0v13.5h-81.0zM1394.8,362.1h67.5v13.5h-67.5zM1583.8,362.1h40.5v13.5h-40.5zM1637.8,362.1h54.0v13.5h-54.0zM1637.8,294.6h54.0v13.5h-54.0zM1637.8,213.6h54.0v27.0h-54.0zM395.8,348.6h54.0v13.5h-54.0zM706.2,348.6h13.5v13.5h-13.5zM1340.8,348.6h40.5v13.5h-40.5zM1340.8,281.1h40.5v13.5h-40.5zM1394.8,348.6h81.0v13.5h-81.0zM1597.2,335.1h27.0v27.0h-27.0zM1178.8,321.6h40.5v27.0h-40.5zM1394.8,335.1h13.5v13.5h-13.5zM1435.2,335.1h54.0v13.5h-54.0zM1570.2,335.1h13.5v13.5h-13.5zM1637.8,335.1h67.5v13.5h-67.5zM382.2,321.6h27.0v13.5h-27.0zM1475.8,321.6h27.0v13.5h-27.0zM1570.2,321.6h40.5v13.5h-40.5zM1624.2,321.6h27.0v13.5h-27.0zM1678.2,321.6h27.0v13.5h-27.0zM368.8,308.1h13.5v13.5h-13.5zM1178.8,308.1h27.0v13.5h-27.0zM1246.2,308.1h13.5v13.5h-13.5zM1286.8,308.1h13.5v13.5h-13.5zM1340.8,294.6h27.0v27.0h-27.0zM1489.2,308.1h13.5v13.5h-13.5zM1570.2,308.1h67.5v13.5h-67.5zM1651.2,308.1h40.5v13.5h-40.5zM1489.2,294.6h27.0v13.5h-27.0zM1502.8,281.1h40.5v13.5h-40.5zM1610.8,281.1h81.0v13.5h-81.0zM1502.8,267.6h108.0v13.5h-108.0zM1651.2,254.1h27.0v27.0h-27.0zM1705.2,254.1h13.5v27.0h-13.5zM1502.8,254.1h94.5v13.5h-94.5zM1381.2,240.6h13.5v13.5h-13.5zM1516.2,240.6h81.0v13.5h-81.0zM1664.8,240.6h94.5v13.5h-94.5zM1327.2,227.1h67.5v13.5h-67.5zM1516.2,227.1h13.5v13.5h-13.5zM1570.2,227.1h27.0v13.5h-27.0zM1313.8,213.6h121.5v13.5h-121.5zM1556.8,213.6h40.5v13.5h-40.5zM1313.8,200.1h94.5v13.5h-94.5zM1421.8,200.1h27.0v13.5h-27.0zM1421.8,146.1h27.0v13.5h-27.0zM1529.8,200.1h54.0v13.5h-54.0zM1624.2,200.1h67.5v13.5h-67.5zM1327.2,186.6h135.0v13.5h-135.0zM1529.8,186.6h94.5v13.5h-94.5zM1327.2,173.1h121.5v13.5h-121.5zM1543.2,173.1h13.5v13.5h-13.5zM1583.8,173.1h27.0v13.5h-27.0zM1381.2,159.6h67.5v13.5h-67.5zM1408.2,132.6h54.0v13.5h-54.0zM1421.8,119.1h67.5v13.5h-67.5zM1475.8,92.1h40.5v27.0h-40.5z"/>
<use href="#mask"/>

<use href="#prov"/>
</g>
<use href="#land" fill="none" stroke="#3a3a3a" stroke-width="1.5" stroke-linejoin="round"/>
<use href="#sea"/>
<g stroke="#000" stroke-opacity="0.5" stroke-width="1.5" fill="none"><line x1="321.5" y1="47.6" x2="321.5" y2="1445.8"/><line x1="591.5" y1="47.6" x2="591.5" y2="1445.8"/><line x1="861.5" y1="47.6" x2="861.5" y2="1445.8"/><line x1="1131.5" y1="47.6" x2="1131.5" y2="1445.8"/><line x1="1401.5" y1="47.6" x2="1401.5" y2="1445.8"/><line x1="1671.5" y1="47.6" x2="1671.5" y2="1445.8"/><line x1="134.8" y1="1259.8" x2="1831.4" y2="1259.8" stroke-width="1.9" stroke-opacity="0.42"/><line x1="134.8" y1="989.8" x2="1831.4" y2="989.8" stroke-width="1.9" stroke-opacity="0.42"/><line x1="134.8" y1="719.8" x2="1831.4" y2="719.8" stroke-width="1.9" stroke-opacity="0.42"/><line x1="134.8" y1="449.8" x2="1831.4" y2="449.8" stroke-width="1.9" stroke-opacity="0.42"/><line x1="134.8" y1="179.8" x2="1831.4" y2="179.8" stroke-width="1.9" stroke-opacity="0.42"/></g>
<g transform="translate(0,-10.6)">
<rect x="183.9" y="977" width="873" height="299" fill="#fff"/>
<rect x="201.2" y="1059" width="135.3" height="65.5" fill="#aa1806"/>
<rect x="336.1" y="1059" width="135.3" height="65.5" fill="#ff8c1a"/>
<rect x="470.9" y="1059" width="135.3" height="65.5" fill="#e8e80c"/>
<rect x="605.8" y="1059" width="135.3" height="65.5" fill="#08eaea"/>
<rect x="740.6" y="1059" width="135.3" height="65.5" fill="#5048f8"/>
<rect x="875.5" y="1059" width="135.3" height="65.5" fill="#a008f8"/>
<g font-family='"Liberation Serif", "DejaVu Serif", serif' font-size="44" fill="#1a1a1a">
<text x="605.2" y="1031.3" font-size="45.5" text-anchor="middle">Trend (mm/yr)</text>
<text x="383.0" y="1177.6" text-anchor="end">-12.94</text>
<text x="513.3" y="1177.6" text-anchor="end">-8.18</text>
<text x="649.6" y="1177.6" text-anchor="end">0.00</text>
<text x="786.5" y="1177.6" text-anchor="end">6.43</text>
<text x="925.9" y="1177.6" text-anchor="end">10.36</text>
<rect x="202.2" y="1215.8" width="94" height="36.5" fill="#686868" stroke="#2a2a2a" stroke-width="2.2"/>
<text x="312.5" y="1244.3" font-size="40.5">masked</text>
<rect x="454.9" y="1215.8" width="94" height="36.5" fill="#cbcbcb" stroke="#2a2a2a" stroke-width="2.2"/>
<text x="565.2" y="1244.3" font-size="40.5">insignificant</text>
<rect x="787.9" y="1215.8" width="94" height="36.5" fill="#fff" stroke="#2a2a2a" stroke-width="2.2"/>
<text x="898.2" y="1244.3" font-size="40.5">nodata</text>
</g></g>
<path d="M118.0,30.8H1848.2V1462.6H118.0Z M134.8,47.6V1445.8H1831.4V47.6Z" fill="#000" fill-rule="evenodd"/>
<rect x="322.5" y="36.4" width="268.0" height="6.0" fill="#fff"/>
<rect x="322.5" y="1451.4" width="268.0" height="6.0" fill="#fff"/>
<rect x="862.5" y="36.4" width="268.0" height="6.0" fill="#fff"/>
<rect x="862.5" y="1451.4" width="268.0" height="6.0" fill="#fff"/>
<rect x="1402.5" y="36.4" width="268.0" height="6.0" fill="#fff"/>
<rect x="1402.5" y="1451.4" width="268.0" height="6.0" fill="#fff"/>
<rect x="123.6" y="180.8" width="6.0" height="268.0" fill="#fff"/>
<rect x="1837.0" y="180.8" width="6.0" height="268.0" fill="#fff"/>
<rect x="123.6" y="720.8" width="6.0" height="268.0" fill="#fff"/>
<rect x="1837.0" y="720.8" width="6.0" height="268.0" fill="#fff"/>
<rect x="123.6" y="1260.8" width="6.0" height="184.0" fill="#fff"/>
<rect x="1837.0" y="1260.8" width="6.0" height="184.0" fill="#fff"/>
<rect x="123.1" y="35.9" width="6" height="6" fill="#fff"/>
<rect x="123.1" y="1450.9" width="6" height="6" fill="#fff"/>
<rect x="1836.5" y="35.9" width="6" height="6" fill="#fff"/>
<rect x="1836.5" y="1450.9" width="6" height="6" fill="#fff"/>
<g font-family='"Liberation Serif", "DejaVu Serif", serif' font-size="41.2" fill="#1a1a1a"><text x="322.5" y="28.2" text-anchor="middle">80°0'E</text><text x="322.5" y="1494.8" text-anchor="middle">80°0'E</text><text x="592.5" y="28.2" text-anchor="middle">90°0'E</text><text x="592.5" y="1494.8" text-anchor="middle">90°0'E</text><text x="862.5" y="28.2" text-anchor="middle">100°0'E</text><text x="862.5" y="1494.8" text-anchor="middle">100°0'E</text><text x="1132.5" y="28.2" text-anchor="middle">110°0'E</text><text x="1132.5" y="1494.8" text-anchor="middle">110°0'E</text><text x="1402.5" y="28.2" text-anchor="middle">120°0'E</text><text x="1402.5" y="1494.8" text-anchor="middle">120°0'E</text><text x="1672.5" y="28.2" text-anchor="middle">130°0'E</text><text x="1672.5" y="1494.8" text-anchor="middle">130°0'E</text><text x="112.5" y="1273.8" text-anchor="end">10°0'N</text><text x="1852.5" y="1273.8" text-anchor="start">10°0'N</text><text x="112.5" y="1003.8" text-anchor="end">20°0'N</text><text x="1852.5" y="1003.8" text-anchor="start">20°0'N</text><text x="112.5" y="733.8" text-anchor="end">30°0'N</text><text x="1852.5" y="733.8" text-anchor="start">30°0'N</text><text x="112.5" y="463.8" text-anchor="end">40°0'N</text><text x="1852.5" y="463.8" text-anchor="start">40°0'N</text><text x="112.5" y="193.8" text-anchor="end">50°0'N</text><text x="1852.5" y="193.8" text-anchor="start">50°0'N</text></g>
</g>
<text x="1973.5" y="3050" font-family='"Liberation Serif", "DejaVu Serif", serif' font-weight="bold" font-size="82" fill="#000">(c)</text>
</svg>
</body></html>
